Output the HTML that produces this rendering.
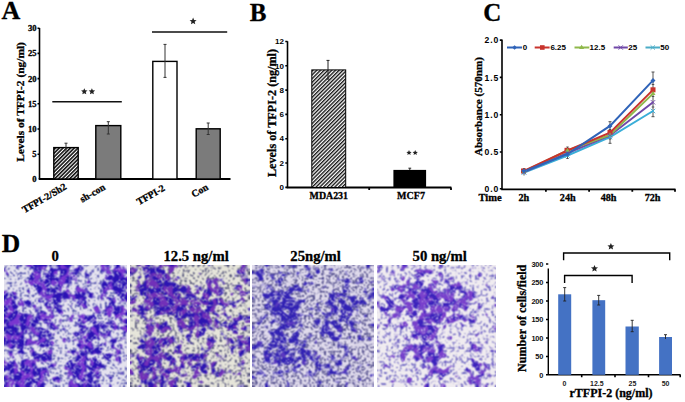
<!DOCTYPE html>
<html><head><meta charset="utf-8">
<style>
html,body{margin:0;padding:0;background:#fff;}
body{width:685px;height:402px;overflow:hidden;position:relative;}
svg{position:absolute;left:0;top:0;}
.s{font-family:"Liberation Serif",serif;font-weight:bold;stroke:#000;stroke-width:0.3px;}
.a{font-family:"Liberation Sans",sans-serif;font-weight:bold;}
</style></head><body>
<svg width="685" height="402" viewBox="0 0 685 402">
<defs>
<pattern id="hatch" patternUnits="userSpaceOnUse" width="2.65" height="2.65" patternTransform="rotate(45)">
<rect width="2.65" height="2.65" fill="#fff"/>
<rect width="1.35" height="2.65" fill="#111"/>
</pattern>
<pattern id="hatchA" patternUnits="userSpaceOnUse" width="2.65" height="2.65" patternTransform="rotate(45)">
<rect width="2.65" height="2.65" fill="#fff"/>
<rect width="1.6" height="2.65" fill="#111"/>
</pattern>
<filter id="soft" x="0" y="0" width="1" height="1"><feGaussianBlur stdDeviation="0.45"/></filter>
</defs>
<rect width="685" height="402" fill="#fff"/>

<!-- ============ PANEL A ============ -->
<g id="A">
<text class="s" x="1.5" y="19" font-size="26">A</text>
<text class="s" font-size="11.4" text-anchor="middle" transform="translate(23.6,102) rotate(-90)">Levels of TFPI-2 (ng/ml)</text>
<g class="s" font-size="8.6" text-anchor="end">
<text x="36.6" y="31.2">30</text>
<text x="36.6" y="56.4">25</text>
<text x="36.6" y="81.6">20</text>
<text x="36.6" y="106.8">15</text>
<text x="36.6" y="132">10</text>
<text x="36.6" y="157.2">5</text>
<text x="36.6" y="182.4">0</text>
</g>
<g stroke="#000" stroke-width="1.6" fill="none">
<path d="M39.5,28 V179 M37.5,28.2 H39.5 M37.5,53.4 H39.5 M37.5,78.6 H39.5 M37.5,103.8 H39.5 M37.5,129 H39.5 M37.5,154.2 H39.5"/>
<path d="M38.7,179 H230.5" stroke-width="1.8"/>
</g>
<!-- bars -->
<rect x="53.8" y="147.6" width="24.4" height="31.4" fill="url(#hatchA)" stroke="#000" stroke-width="1.4"/>
<rect x="95.8" y="125.6" width="25" height="53.4" fill="#7b7b7b" stroke="#000" stroke-width="1.4"/>
<rect x="152.8" y="61.4" width="24.2" height="117.6" fill="#fff" stroke="#000" stroke-width="1.4"/>
<rect x="196.2" y="128.8" width="24" height="50.2" fill="#7b7b7b" stroke="#000" stroke-width="1.4"/>
<!-- error bars -->
<g stroke="#333" stroke-width="1">
<path d="M66,143.2 V152 M64.5,143.2 H67.5"/>
<path d="M108.3,121.7 V134 M106.8,121.7 H109.8 M106.8,134 H109.8"/>
<path d="M165,44.4 V77.4 M163.5,44.4 H166.5 M163.5,77.4 H166.5"/>
<path d="M208.2,123 V134.5 M206.7,123 H209.7 M206.7,134.5 H209.7"/>
</g>
<!-- significance -->
<path d="M52.3,101.8 H121.8 M152,32 H227.2" stroke="#111" stroke-width="1.6"/>
<!-- x labels -->
<g class="s" font-size="9.9" text-anchor="end">
<text transform="translate(67.2,188.6) rotate(-30)">TFPI-2/Sh2</text>
<text transform="translate(106,189) rotate(-30)">sh-con</text>
<text transform="translate(165.6,190) rotate(-30)">TFPI-2</text>
<text transform="translate(209,189) rotate(-30)">Con</text>
</g>
</g>

<!-- ============ PANEL B ============ -->
<g id="B">
<text class="s" x="249.8" y="20.9" font-size="25">B</text>
<text class="s" font-size="12.2" text-anchor="middle" transform="translate(276.2,113) rotate(-90)">Levels of TFPI-2 (ng/ml)</text>
<g class="a" font-size="8" text-anchor="end">
<text x="284" y="44.2">12</text>
<text x="284" y="68.5">10</text>
<text x="284" y="92.8">8</text>
<text x="284" y="117.1">6</text>
<text x="284" y="141.4">4</text>
<text x="284" y="165.7">2</text>
<text x="284" y="190">0</text>
</g>
<g stroke="#000" stroke-width="1.6" fill="none">
<path d="M287.5,41.3 V187.5 M285.3,41.5 H287.5 M285.3,65.8 H287.5 M285.3,90.1 H287.5 M285.3,114.4 H287.5 M285.3,138.7 H287.5 M285.3,163 H287.5 M285.3,187.4 H287.5"/>
<path d="M286.7,187.5 H451.4 M369.2,187.5 V190 M451,187.5 V190" stroke-width="1.8"/>
</g>
<rect x="311.8" y="69.9" width="33.9" height="117.6" fill="url(#hatch)" stroke="#000" stroke-width="1"/>
<rect x="393.4" y="169.9" width="32.7" height="17.6" fill="#000"/>
<path d="M328,60.4 V79.1 M326.5,60.4 H329.5 M326.5,79.1 H329.5" stroke="#222" stroke-width="1"/>
<path d="M409.8,168.2 V170 M408.4,168.2 H411.2" stroke="#222" stroke-width="1"/>
<text class="s" x="328.8" y="199.2" font-size="9.9" text-anchor="middle">MDA231</text>
<text class="s" x="411" y="199.2" font-size="10" text-anchor="middle">MCF7</text>
</g>

<!-- ============ PANEL C ============ -->
<g id="C">
<text class="s" x="483.3" y="21" font-size="25">C</text>
<text class="s" font-size="11.1" text-anchor="middle" transform="translate(481.6,106.5) rotate(-90)">Absorbance (570nm)</text>
<g class="a" font-size="8.6" text-anchor="end" letter-spacing="0.9">
<text x="499.2" y="43.2">2.0</text>
<text x="499.2" y="80.5">1.5</text>
<text x="499.2" y="117.7">1.0</text>
<text x="499.2" y="155">0.5</text>
<text x="499.2" y="191.6">0.0</text>
</g>
<g stroke="#000" stroke-width="1.6" fill="none">
<path d="M502,39.5 V189 M499.8,40.1 H502 M499.8,77.4 H502 M499.8,114.7 H502 M499.8,152 H502 M499.8,188.8 H502"/>
<path d="M501.2,189.3 H675.5 M545.9,189.3 V191.8 M589.1,189.3 V191.8 M632.3,189.3 V191.8 M675,189.3 V191.8" stroke-width="1.8"/>
</g>
<!-- error bars -->
<g stroke="#444" stroke-width="0.9" fill="none">
<path d="M610,121.7 V143.3 M608.5,121.7 H611.5 M608.5,143.3 H611.5 M608.7,129.5 H611.3 M608.7,139 H611.3"/>
<path d="M653,72 V116.7 M651.5,72 H654.5 M651.5,116.7 H654.5 M651.7,84.5 H654.3 M651.7,96.5 H654.3 M651.7,107 H654.3"/>
<path d="M524,168.5 V175.5 M522.8,168.5 H525.2 M567.5,147 V158.5 M566.3,147 H568.7 M566.3,158.5 H568.7"/>
</g>
<!-- series -->
<g fill="none" stroke-width="2">
<polyline points="524,172.5 567.5,155.5 610,137 653,111" stroke="#3aaed8"/>
<polyline points="524,172 567.5,153 610,135.5 653,102.3" stroke="#7048a8"/>
<polyline points="524,171.5 567.5,150.5 610,135 653,93.6" stroke="#8fb84a"/>
<polyline points="524,171 567.5,150.5 610,132.6 653,89.9" stroke="#c8332d"/>
<polyline points="524,171.5 567.5,154 610,125.9 653,80.4" stroke="#2f63b8"/>
</g>
<!-- markers -->
<g>
<rect x="521" y="168.5" width="5" height="5" fill="#c8332d"/>
<rect x="564.5" y="147.8" width="5" height="5" fill="#c8332d"/>
<rect x="607.5" y="130" width="5" height="5" fill="#c8332d"/>
<rect x="650.5" y="87.3" width="5" height="5" fill="#c8332d"/>
<path d="M524,168.5 l2.5,4 h-5z M567.5,148 l2.5,4 h-5z M610,132.5 l2.5,4 h-5z M653,91 l2.5,4 h-5z" fill="#8fb84a"/>
<path d="M521.8,169.8 l4.4,4.4 M526.2,169.8 l-4.4,4.4 M565.3,150.8 l4.4,4.4 M569.7,150.8 l-4.4,4.4 M607.8,133.3 l4.4,4.4 M612.2,133.3 l-4.4,4.4 M650.8,100.1 l4.4,4.4 M655.2,100.1 l-4.4,4.4" stroke="#7048a8" stroke-width="0.9"/>
<path d="M521.8,170.3 l4.4,4.4 M526.2,170.3 l-4.4,4.4 M565.3,153.3 l4.4,4.4 M569.7,153.3 l-4.4,4.4 M607.8,134.8 l4.4,4.4 M612.2,134.8 l-4.4,4.4 M650.8,108.8 l4.4,4.4 M655.2,108.8 l-4.4,4.4" stroke="#3aaed8" stroke-width="0.9"/>
<path d="M524,168.5 l2.5,2.5 l-2.5,2.5 l-2.5,-2.5z M567.5,151.5 l2.5,2.5 l-2.5,2.5 l-2.5,-2.5z M610,123.4 l2.5,2.5 l-2.5,2.5 l-2.5,-2.5z M653,77.9 l2.5,2.5 l-2.5,2.5 l-2.5,-2.5z" fill="#2f63b8"/>
</g>
<!-- legend -->
<g stroke-width="2">
<path d="M507,47.5 H522" stroke="#2f63b8"/>
<path d="M514.6,45.2 l2.3,2.3 l-2.3,2.3 l-2.3,-2.3z" fill="#2f63b8"/>
<path d="M534.7,47.5 H549.6" stroke="#c8332d"/>
<rect x="540" y="45.2" width="4.6" height="4.6" fill="#c8332d"/>
<path d="M574.5,47.5 H589.3" stroke="#8fb84a"/>
<path d="M581.6,44.8 l2.6,4.2 h-5.2z" fill="#8fb84a"/>
<path d="M613.7,47.5 H627.8" stroke="#7048a8"/>
<path d="M618.5,45.3 l4.4,4.4 M622.9,45.3 l-4.4,4.4" stroke="#7048a8" stroke-width="0.9"/>
<path d="M645.5,47.5 H660" stroke="#4bacc6"/>
<path d="M650.6,45.3 l4.4,4.4 M655,45.3 l-4.4,4.4" stroke="#4bacc6" stroke-width="0.9"/>
</g>
<g class="a" font-size="8">
<text x="522.8" y="50.4">0</text>
<text x="550.4" y="50.4">6.25</text>
<text x="589.6" y="50.4">12.5</text>
<text x="628.2" y="50.4">25</text>
<text x="660.3" y="50.4">50</text>
</g>
<g class="s" font-size="10.2" text-anchor="middle">
<text x="490" y="200.6" font-size="10.5">Time</text>
<text x="523.8" y="200.6">2h</text>
<text x="567.8" y="200.6">24h</text>
<text x="608.6" y="200.6">48h</text>
<text x="652.6" y="200.6">72h</text>
</g>
</g>

<!-- ============ PANEL D ============ -->
<g id="D">
<text class="s" x="1.8" y="251.6" font-size="25.5">D</text>
<g class="s" font-size="14.7" text-anchor="middle">
<text x="55.2" y="261">0</text>
<text x="196.1" y="261">12.5 ng/ml</text>
<text x="315.6" y="261">25ng/ml</text>
<text x="439.7" y="261">50 ng/ml</text>
</g>
<defs><filter id="mf0" filterUnits="userSpaceOnUse" x="4.0" y="265.0" width="123.0" height="121.8" color-interpolation-filters="sRGB">
<feGaussianBlur in="SourceGraphic" stdDeviation="3.5" result="D"/>
<feTurbulence type="fractalNoise" baseFrequency="0.13" numOctaves="2" seed="3" result="n0"/>
<feColorMatrix in="n0" type="matrix" values="1 0 0 0 0 1 0 0 0 0 1 0 0 0 0 0 0 0 0 1" result="N"/>
<feComposite in="N" in2="D" operator="arithmetic" k2="1" k3="1.2" k4="-0.57" result="S"/>
<feColorMatrix in="S" type="matrix" values="0 0 0 0 0.165 0 0 0 0 0.071 0 0 0 0 0.706 7.0 0 0 0 -3.500" result="DK0"/>
<feTurbulence type="fractalNoise" baseFrequency="0.15" numOctaves="1" seed="14" result="h0"/>
<feColorMatrix in="h0" type="matrix" values="0 0 0 0 0.478 0 0 0 0 0.212 0 0 0 0 0.816 12 0 0 0 -6.000" result="HP"/>
<feTurbulence type="turbulence" baseFrequency="0.16" numOctaves="1" seed="34" result="c0"/>
<feColorMatrix in="c0" type="matrix" values="0 0 0 0 0 0 0 0 0 0 0 0 0 0 0 -12 0 0 0 0.840" result="CR"/>
<feComposite in="DK0" in2="CR" operator="out" result="DK"/>
<feComposite in="HP" in2="DK" operator="in" result="PU"/>
<feTurbulence type="fractalNoise" baseFrequency="0.4" numOctaves="1" seed="26" result="s0"/>
<feColorMatrix in="s0" type="matrix" values="0 0 0 0 0.282 0 0 0 0 0.282 0 0 0 0 0.659 10 0 0 0 -5.900" result="SP0"/>
<feComponentTransfer in="SP0" result="SP"><feFuncA type="linear" slope="0.95"/></feComponentTransfer>
<feTurbulence type="fractalNoise" baseFrequency="0.4" numOctaves="1" seed="44" result="t0"/>
<feColorMatrix in="t0" type="matrix" values="0 0 0 0 0.282 0 0 0 0 0.282 0 0 0 0 0.659 10 0 0 0 -6.000" result="SQ0"/>
<feComponentTransfer in="SQ0" result="SQ"><feFuncA type="linear" slope="0.95"/></feComponentTransfer>
<feFlood flood-color="#e4e2ee" result="BG"/>
<feMerge result="M"><feMergeNode in="BG"/><feMergeNode in="SP"/><feMergeNode in="SQ"/><feMergeNode in="DK"/><feMergeNode in="PU"/></feMerge>
<feConvolveMatrix in="M" order="3" kernelMatrix="1 2 1 2 4 2 1 2 1" divisor="16" edgeMode="duplicate" preserveAlpha="true"/>

</filter>
<filter id="mf1" filterUnits="userSpaceOnUse" x="130.0" y="265.0" width="119.4" height="121.8" color-interpolation-filters="sRGB">
<feGaussianBlur in="SourceGraphic" stdDeviation="3.5" result="D"/>
<feTurbulence type="fractalNoise" baseFrequency="0.13" numOctaves="2" seed="5" result="n0"/>
<feColorMatrix in="n0" type="matrix" values="1 0 0 0 0 1 0 0 0 0 1 0 0 0 0 0 0 0 0 1" result="N"/>
<feComposite in="N" in2="D" operator="arithmetic" k2="1" k3="1.1" k4="-0.515" result="S"/>
<feColorMatrix in="S" type="matrix" values="0 0 0 0 0.173 0 0 0 0 0.078 0 0 0 0 0.698 7.0 0 0 0 -3.500" result="DK0"/>
<feTurbulence type="fractalNoise" baseFrequency="0.15" numOctaves="1" seed="16" result="h0"/>
<feColorMatrix in="h0" type="matrix" values="0 0 0 0 0.447 0 0 0 0 0.188 0 0 0 0 0.722 12 0 0 0 -5.640" result="HP"/>
<feTurbulence type="turbulence" baseFrequency="0.16" numOctaves="1" seed="36" result="c0"/>
<feColorMatrix in="c0" type="matrix" values="0 0 0 0 0 0 0 0 0 0 0 0 0 0 0 -12 0 0 0 0.840" result="CR"/>
<feComposite in="DK0" in2="CR" operator="out" result="DK"/>
<feComposite in="HP" in2="DK" operator="in" result="PU"/>
<feTurbulence type="fractalNoise" baseFrequency="0.4" numOctaves="1" seed="28" result="s0"/>
<feColorMatrix in="s0" type="matrix" values="0 0 0 0 0.314 0 0 0 0 0.314 0 0 0 0 0.471 10 0 0 0 -5.900" result="SP0"/>
<feComponentTransfer in="SP0" result="SP"><feFuncA type="linear" slope="0.95"/></feComponentTransfer>
<feTurbulence type="fractalNoise" baseFrequency="0.4" numOctaves="1" seed="46" result="t0"/>
<feColorMatrix in="t0" type="matrix" values="0 0 0 0 0.314 0 0 0 0 0.314 0 0 0 0 0.471 10 0 0 0 -6.000" result="SQ0"/>
<feComponentTransfer in="SQ0" result="SQ"><feFuncA type="linear" slope="0.95"/></feComponentTransfer>
<feFlood flood-color="#e6e5da" result="BG"/>
<feMerge result="M"><feMergeNode in="BG"/><feMergeNode in="SP"/><feMergeNode in="SQ"/><feMergeNode in="DK"/><feMergeNode in="PU"/></feMerge>
<feConvolveMatrix in="M" order="3" kernelMatrix="1 2 1 2 4 2 1 2 1" divisor="16" edgeMode="duplicate" preserveAlpha="true"/>

</filter>
<filter id="mf2" filterUnits="userSpaceOnUse" x="252.4" y="265.0" width="121.5" height="121.8" color-interpolation-filters="sRGB">
<feGaussianBlur in="SourceGraphic" stdDeviation="3.5" result="D"/>
<feTurbulence type="fractalNoise" baseFrequency="0.14" numOctaves="2" seed="7" result="n0"/>
<feColorMatrix in="n0" type="matrix" values="1 0 0 0 0 1 0 0 0 0 1 0 0 0 0 0 0 0 0 1" result="N"/>
<feComposite in="N" in2="D" operator="arithmetic" k2="1" k3="1.15" k4="-0.565" result="S"/>
<feColorMatrix in="S" type="matrix" values="0 0 0 0 0.196 0 0 0 0 0.133 0 0 0 0 0.706 7.0 0 0 0 -3.500" result="DK0"/>
<feTurbulence type="fractalNoise" baseFrequency="0.15" numOctaves="1" seed="18" result="h0"/>
<feColorMatrix in="h0" type="matrix" values="0 0 0 0 0.353 0 0 0 0 0.220 0 0 0 0 0.753 12 0 0 0 -7.440" result="HP"/>
<feTurbulence type="turbulence" baseFrequency="0.16" numOctaves="1" seed="38" result="c0"/>
<feColorMatrix in="c0" type="matrix" values="0 0 0 0 0 0 0 0 0 0 0 0 0 0 0 -12 0 0 0 0.840" result="CR"/>
<feComposite in="DK0" in2="CR" operator="out" result="DK"/>
<feComposite in="HP" in2="DK" operator="in" result="PU"/>
<feTurbulence type="fractalNoise" baseFrequency="0.45" numOctaves="1" seed="30" result="s0"/>
<feColorMatrix in="s0" type="matrix" values="0 0 0 0 0.298 0 0 0 0 0.282 0 0 0 0 0.533 10 0 0 0 -5.600" result="SP0"/>
<feComponentTransfer in="SP0" result="SP"><feFuncA type="linear" slope="0.9"/></feComponentTransfer>
<feTurbulence type="fractalNoise" baseFrequency="0.45" numOctaves="1" seed="48" result="t0"/>
<feColorMatrix in="t0" type="matrix" values="0 0 0 0 0.298 0 0 0 0 0.282 0 0 0 0 0.533 10 0 0 0 -5.600" result="SQ0"/>
<feComponentTransfer in="SQ0" result="SQ"><feFuncA type="linear" slope="0.9"/></feComponentTransfer>
<feFlood flood-color="#e0dbec" result="BG"/>
<feMerge result="M"><feMergeNode in="BG"/><feMergeNode in="SP"/><feMergeNode in="SQ"/><feMergeNode in="DK"/><feMergeNode in="PU"/></feMerge>
<feConvolveMatrix in="M" order="3" kernelMatrix="1 2 1 2 4 2 1 2 1" divisor="16" edgeMode="duplicate" preserveAlpha="true"/>

</filter>
<filter id="mf3" filterUnits="userSpaceOnUse" x="377.0" y="265.0" width="119.0" height="121.8" color-interpolation-filters="sRGB">
<feGaussianBlur in="SourceGraphic" stdDeviation="3.5" result="D"/>
<feTurbulence type="fractalNoise" baseFrequency="0.13" numOctaves="2" seed="9" result="n0"/>
<feColorMatrix in="n0" type="matrix" values="1 0 0 0 0 1 0 0 0 0 1 0 0 0 0 0 0 0 0 1" result="N"/>
<feComposite in="N" in2="D" operator="arithmetic" k2="1" k3="1.1" k4="-0.47000000000000003" result="S"/>
<feColorMatrix in="S" type="matrix" values="0 0 0 0 0.235 0 0 0 0 0.133 0 0 0 0 0.737 7.0 0 0 0 -3.500" result="DK0"/>
<feTurbulence type="fractalNoise" baseFrequency="0.15" numOctaves="1" seed="20" result="h0"/>
<feColorMatrix in="h0" type="matrix" values="0 0 0 0 0.478 0 0 0 0 0.251 0 0 0 0 0.800 12 0 0 0 -5.400" result="HP"/>
<feTurbulence type="turbulence" baseFrequency="0.16" numOctaves="1" seed="40" result="c0"/>
<feColorMatrix in="c0" type="matrix" values="0 0 0 0 0 0 0 0 0 0 0 0 0 0 0 -12 0 0 0 0.840" result="CR"/>
<feComposite in="DK0" in2="CR" operator="out" result="DK"/>
<feComposite in="HP" in2="DK" operator="in" result="PU"/>
<feTurbulence type="fractalNoise" baseFrequency="0.36" numOctaves="1" seed="32" result="s0"/>
<feColorMatrix in="s0" type="matrix" values="0 0 0 0 0.416 0 0 0 0 0.384 0 0 0 0 0.753 10 0 0 0 -5.800" result="SP0"/>
<feComponentTransfer in="SP0" result="SP"><feFuncA type="linear" slope="0.9"/></feComponentTransfer>
<feTurbulence type="fractalNoise" baseFrequency="0.36" numOctaves="1" seed="50" result="t0"/>
<feColorMatrix in="t0" type="matrix" values="0 0 0 0 0.416 0 0 0 0 0.384 0 0 0 0 0.753 10 0 0 0 -6.000" result="SQ0"/>
<feComponentTransfer in="SQ0" result="SQ"><feFuncA type="linear" slope="0.9"/></feComponentTransfer>
<feFlood flood-color="#f0ecf0" result="BG"/>
<feMerge result="M"><feMergeNode in="BG"/><feMergeNode in="SP"/><feMergeNode in="SQ"/><feMergeNode in="DK"/><feMergeNode in="PU"/></feMerge>
<feConvolveMatrix in="M" order="3" kernelMatrix="1 2 1 2 4 2 1 2 1" divisor="16" edgeMode="duplicate" preserveAlpha="true"/>

</filter></defs>
<g filter="url(#mf0)"><rect x="-20.6" y="240.6" width="12.6" height="12.5" fill="rgb(102,102,102)"/><rect x="-8.3" y="240.6" width="12.6" height="12.5" fill="rgb(102,102,102)"/><rect x="4.0" y="240.6" width="12.6" height="12.5" fill="rgb(102,102,102)"/><rect x="16.3" y="240.6" width="12.6" height="12.5" fill="rgb(76,76,76)"/><rect x="28.6" y="240.6" width="12.6" height="12.5" fill="rgb(178,178,178)"/><rect x="40.9" y="240.6" width="12.6" height="12.5" fill="rgb(128,128,128)"/><rect x="53.2" y="240.6" width="12.6" height="12.5" fill="rgb(178,178,178)"/><rect x="65.5" y="240.6" width="12.6" height="12.5" fill="rgb(153,153,153)"/><rect x="77.8" y="240.6" width="12.6" height="12.5" fill="rgb(128,128,128)"/><rect x="90.1" y="240.6" width="12.6" height="12.5" fill="rgb(76,76,76)"/><rect x="102.4" y="240.6" width="12.6" height="12.5" fill="rgb(153,153,153)"/><rect x="114.7" y="240.6" width="12.6" height="12.5" fill="rgb(153,153,153)"/><rect x="127.0" y="240.6" width="12.6" height="12.5" fill="rgb(153,153,153)"/><rect x="139.3" y="240.6" width="12.6" height="12.5" fill="rgb(153,153,153)"/><rect x="-20.6" y="252.8" width="12.6" height="12.5" fill="rgb(102,102,102)"/><rect x="-8.3" y="252.8" width="12.6" height="12.5" fill="rgb(102,102,102)"/><rect x="4.0" y="252.8" width="12.6" height="12.5" fill="rgb(102,102,102)"/><rect x="16.3" y="252.8" width="12.6" height="12.5" fill="rgb(76,76,76)"/><rect x="28.6" y="252.8" width="12.6" height="12.5" fill="rgb(178,178,178)"/><rect x="40.9" y="252.8" width="12.6" height="12.5" fill="rgb(128,128,128)"/><rect x="53.2" y="252.8" width="12.6" height="12.5" fill="rgb(178,178,178)"/><rect x="65.5" y="252.8" width="12.6" height="12.5" fill="rgb(153,153,153)"/><rect x="77.8" y="252.8" width="12.6" height="12.5" fill="rgb(128,128,128)"/><rect x="90.1" y="252.8" width="12.6" height="12.5" fill="rgb(76,76,76)"/><rect x="102.4" y="252.8" width="12.6" height="12.5" fill="rgb(153,153,153)"/><rect x="114.7" y="252.8" width="12.6" height="12.5" fill="rgb(153,153,153)"/><rect x="127.0" y="252.8" width="12.6" height="12.5" fill="rgb(153,153,153)"/><rect x="139.3" y="252.8" width="12.6" height="12.5" fill="rgb(153,153,153)"/><rect x="-20.6" y="265.0" width="12.6" height="12.5" fill="rgb(102,102,102)"/><rect x="-8.3" y="265.0" width="12.6" height="12.5" fill="rgb(102,102,102)"/><rect x="4.0" y="265.0" width="12.6" height="12.5" fill="rgb(102,102,102)"/><rect x="16.3" y="265.0" width="12.6" height="12.5" fill="rgb(76,76,76)"/><rect x="28.6" y="265.0" width="12.6" height="12.5" fill="rgb(178,178,178)"/><rect x="40.9" y="265.0" width="12.6" height="12.5" fill="rgb(128,128,128)"/><rect x="53.2" y="265.0" width="12.6" height="12.5" fill="rgb(178,178,178)"/><rect x="65.5" y="265.0" width="12.6" height="12.5" fill="rgb(153,153,153)"/><rect x="77.8" y="265.0" width="12.6" height="12.5" fill="rgb(128,128,128)"/><rect x="90.1" y="265.0" width="12.6" height="12.5" fill="rgb(76,76,76)"/><rect x="102.4" y="265.0" width="12.6" height="12.5" fill="rgb(153,153,153)"/><rect x="114.7" y="265.0" width="12.6" height="12.5" fill="rgb(153,153,153)"/><rect x="127.0" y="265.0" width="12.6" height="12.5" fill="rgb(153,153,153)"/><rect x="139.3" y="265.0" width="12.6" height="12.5" fill="rgb(153,153,153)"/><rect x="-20.6" y="277.2" width="12.6" height="12.5" fill="rgb(76,76,76)"/><rect x="-8.3" y="277.2" width="12.6" height="12.5" fill="rgb(76,76,76)"/><rect x="4.0" y="277.2" width="12.6" height="12.5" fill="rgb(76,76,76)"/><rect x="16.3" y="277.2" width="12.6" height="12.5" fill="rgb(76,76,76)"/><rect x="28.6" y="277.2" width="12.6" height="12.5" fill="rgb(178,178,178)"/><rect x="40.9" y="277.2" width="12.6" height="12.5" fill="rgb(178,178,178)"/><rect x="53.2" y="277.2" width="12.6" height="12.5" fill="rgb(178,178,178)"/><rect x="65.5" y="277.2" width="12.6" height="12.5" fill="rgb(128,128,128)"/><rect x="77.8" y="277.2" width="12.6" height="12.5" fill="rgb(102,102,102)"/><rect x="90.1" y="277.2" width="12.6" height="12.5" fill="rgb(76,76,76)"/><rect x="102.4" y="277.2" width="12.6" height="12.5" fill="rgb(178,178,178)"/><rect x="114.7" y="277.2" width="12.6" height="12.5" fill="rgb(178,178,178)"/><rect x="127.0" y="277.2" width="12.6" height="12.5" fill="rgb(178,178,178)"/><rect x="139.3" y="277.2" width="12.6" height="12.5" fill="rgb(178,178,178)"/><rect x="-20.6" y="289.4" width="12.6" height="12.5" fill="rgb(153,153,153)"/><rect x="-8.3" y="289.4" width="12.6" height="12.5" fill="rgb(153,153,153)"/><rect x="4.0" y="289.4" width="12.6" height="12.5" fill="rgb(153,153,153)"/><rect x="16.3" y="289.4" width="12.6" height="12.5" fill="rgb(89,89,89)"/><rect x="28.6" y="289.4" width="12.6" height="12.5" fill="rgb(128,128,128)"/><rect x="40.9" y="289.4" width="12.6" height="12.5" fill="rgb(153,153,153)"/><rect x="53.2" y="289.4" width="12.6" height="12.5" fill="rgb(128,128,128)"/><rect x="65.5" y="289.4" width="12.6" height="12.5" fill="rgb(153,153,153)"/><rect x="77.8" y="289.4" width="12.6" height="12.5" fill="rgb(178,178,178)"/><rect x="90.1" y="289.4" width="12.6" height="12.5" fill="rgb(89,89,89)"/><rect x="102.4" y="289.4" width="12.6" height="12.5" fill="rgb(115,115,115)"/><rect x="114.7" y="289.4" width="12.6" height="12.5" fill="rgb(153,153,153)"/><rect x="127.0" y="289.4" width="12.6" height="12.5" fill="rgb(153,153,153)"/><rect x="139.3" y="289.4" width="12.6" height="12.5" fill="rgb(153,153,153)"/><rect x="-20.6" y="301.5" width="12.6" height="12.5" fill="rgb(204,204,204)"/><rect x="-8.3" y="301.5" width="12.6" height="12.5" fill="rgb(204,204,204)"/><rect x="4.0" y="301.5" width="12.6" height="12.5" fill="rgb(204,204,204)"/><rect x="16.3" y="301.5" width="12.6" height="12.5" fill="rgb(128,128,128)"/><rect x="28.6" y="301.5" width="12.6" height="12.5" fill="rgb(128,128,128)"/><rect x="40.9" y="301.5" width="12.6" height="12.5" fill="rgb(128,128,128)"/><rect x="53.2" y="301.5" width="12.6" height="12.5" fill="rgb(153,153,153)"/><rect x="65.5" y="301.5" width="12.6" height="12.5" fill="rgb(76,76,76)"/><rect x="77.8" y="301.5" width="12.6" height="12.5" fill="rgb(153,153,153)"/><rect x="90.1" y="301.5" width="12.6" height="12.5" fill="rgb(102,102,102)"/><rect x="102.4" y="301.5" width="12.6" height="12.5" fill="rgb(153,153,153)"/><rect x="114.7" y="301.5" width="12.6" height="12.5" fill="rgb(153,153,153)"/><rect x="127.0" y="301.5" width="12.6" height="12.5" fill="rgb(153,153,153)"/><rect x="139.3" y="301.5" width="12.6" height="12.5" fill="rgb(153,153,153)"/><rect x="-20.6" y="313.7" width="12.6" height="12.5" fill="rgb(204,204,204)"/><rect x="-8.3" y="313.7" width="12.6" height="12.5" fill="rgb(204,204,204)"/><rect x="4.0" y="313.7" width="12.6" height="12.5" fill="rgb(204,204,204)"/><rect x="16.3" y="313.7" width="12.6" height="12.5" fill="rgb(178,178,178)"/><rect x="28.6" y="313.7" width="12.6" height="12.5" fill="rgb(153,153,153)"/><rect x="40.9" y="313.7" width="12.6" height="12.5" fill="rgb(153,153,153)"/><rect x="53.2" y="313.7" width="12.6" height="12.5" fill="rgb(128,128,128)"/><rect x="65.5" y="313.7" width="12.6" height="12.5" fill="rgb(102,102,102)"/><rect x="77.8" y="313.7" width="12.6" height="12.5" fill="rgb(153,153,153)"/><rect x="90.1" y="313.7" width="12.6" height="12.5" fill="rgb(128,128,128)"/><rect x="102.4" y="313.7" width="12.6" height="12.5" fill="rgb(153,153,153)"/><rect x="114.7" y="313.7" width="12.6" height="12.5" fill="rgb(128,128,128)"/><rect x="127.0" y="313.7" width="12.6" height="12.5" fill="rgb(128,128,128)"/><rect x="139.3" y="313.7" width="12.6" height="12.5" fill="rgb(128,128,128)"/><rect x="-20.6" y="325.9" width="12.6" height="12.5" fill="rgb(178,178,178)"/><rect x="-8.3" y="325.9" width="12.6" height="12.5" fill="rgb(178,178,178)"/><rect x="4.0" y="325.9" width="12.6" height="12.5" fill="rgb(178,178,178)"/><rect x="16.3" y="325.9" width="12.6" height="12.5" fill="rgb(178,178,178)"/><rect x="28.6" y="325.9" width="12.6" height="12.5" fill="rgb(128,128,128)"/><rect x="40.9" y="325.9" width="12.6" height="12.5" fill="rgb(153,153,153)"/><rect x="53.2" y="325.9" width="12.6" height="12.5" fill="rgb(115,115,115)"/><rect x="65.5" y="325.9" width="12.6" height="12.5" fill="rgb(89,89,89)"/><rect x="77.8" y="325.9" width="12.6" height="12.5" fill="rgb(178,178,178)"/><rect x="90.1" y="325.9" width="12.6" height="12.5" fill="rgb(153,153,153)"/><rect x="102.4" y="325.9" width="12.6" height="12.5" fill="rgb(128,128,128)"/><rect x="114.7" y="325.9" width="12.6" height="12.5" fill="rgb(128,128,128)"/><rect x="127.0" y="325.9" width="12.6" height="12.5" fill="rgb(128,128,128)"/><rect x="139.3" y="325.9" width="12.6" height="12.5" fill="rgb(128,128,128)"/><rect x="-20.6" y="338.1" width="12.6" height="12.5" fill="rgb(153,153,153)"/><rect x="-8.3" y="338.1" width="12.6" height="12.5" fill="rgb(153,153,153)"/><rect x="4.0" y="338.1" width="12.6" height="12.5" fill="rgb(153,153,153)"/><rect x="16.3" y="338.1" width="12.6" height="12.5" fill="rgb(153,153,153)"/><rect x="28.6" y="338.1" width="12.6" height="12.5" fill="rgb(128,128,128)"/><rect x="40.9" y="338.1" width="12.6" height="12.5" fill="rgb(153,153,153)"/><rect x="53.2" y="338.1" width="12.6" height="12.5" fill="rgb(115,115,115)"/><rect x="65.5" y="338.1" width="12.6" height="12.5" fill="rgb(89,89,89)"/><rect x="77.8" y="338.1" width="12.6" height="12.5" fill="rgb(178,178,178)"/><rect x="90.1" y="338.1" width="12.6" height="12.5" fill="rgb(153,153,153)"/><rect x="102.4" y="338.1" width="12.6" height="12.5" fill="rgb(115,115,115)"/><rect x="114.7" y="338.1" width="12.6" height="12.5" fill="rgb(128,128,128)"/><rect x="127.0" y="338.1" width="12.6" height="12.5" fill="rgb(128,128,128)"/><rect x="139.3" y="338.1" width="12.6" height="12.5" fill="rgb(128,128,128)"/><rect x="-20.6" y="350.3" width="12.6" height="12.5" fill="rgb(102,102,102)"/><rect x="-8.3" y="350.3" width="12.6" height="12.5" fill="rgb(102,102,102)"/><rect x="4.0" y="350.3" width="12.6" height="12.5" fill="rgb(102,102,102)"/><rect x="16.3" y="350.3" width="12.6" height="12.5" fill="rgb(153,153,153)"/><rect x="28.6" y="350.3" width="12.6" height="12.5" fill="rgb(128,128,128)"/><rect x="40.9" y="350.3" width="12.6" height="12.5" fill="rgb(153,153,153)"/><rect x="53.2" y="350.3" width="12.6" height="12.5" fill="rgb(89,89,89)"/><rect x="65.5" y="350.3" width="12.6" height="12.5" fill="rgb(128,128,128)"/><rect x="77.8" y="350.3" width="12.6" height="12.5" fill="rgb(153,153,153)"/><rect x="90.1" y="350.3" width="12.6" height="12.5" fill="rgb(153,153,153)"/><rect x="102.4" y="350.3" width="12.6" height="12.5" fill="rgb(128,128,128)"/><rect x="114.7" y="350.3" width="12.6" height="12.5" fill="rgb(115,115,115)"/><rect x="127.0" y="350.3" width="12.6" height="12.5" fill="rgb(115,115,115)"/><rect x="139.3" y="350.3" width="12.6" height="12.5" fill="rgb(115,115,115)"/><rect x="-20.6" y="362.4" width="12.6" height="12.5" fill="rgb(153,153,153)"/><rect x="-8.3" y="362.4" width="12.6" height="12.5" fill="rgb(153,153,153)"/><rect x="4.0" y="362.4" width="12.6" height="12.5" fill="rgb(153,153,153)"/><rect x="16.3" y="362.4" width="12.6" height="12.5" fill="rgb(178,178,178)"/><rect x="28.6" y="362.4" width="12.6" height="12.5" fill="rgb(153,153,153)"/><rect x="40.9" y="362.4" width="12.6" height="12.5" fill="rgb(153,153,153)"/><rect x="53.2" y="362.4" width="12.6" height="12.5" fill="rgb(76,76,76)"/><rect x="65.5" y="362.4" width="12.6" height="12.5" fill="rgb(178,178,178)"/><rect x="77.8" y="362.4" width="12.6" height="12.5" fill="rgb(178,178,178)"/><rect x="90.1" y="362.4" width="12.6" height="12.5" fill="rgb(153,153,153)"/><rect x="102.4" y="362.4" width="12.6" height="12.5" fill="rgb(102,102,102)"/><rect x="114.7" y="362.4" width="12.6" height="12.5" fill="rgb(89,89,89)"/><rect x="127.0" y="362.4" width="12.6" height="12.5" fill="rgb(89,89,89)"/><rect x="139.3" y="362.4" width="12.6" height="12.5" fill="rgb(89,89,89)"/><rect x="-20.6" y="374.6" width="12.6" height="12.5" fill="rgb(153,153,153)"/><rect x="-8.3" y="374.6" width="12.6" height="12.5" fill="rgb(153,153,153)"/><rect x="4.0" y="374.6" width="12.6" height="12.5" fill="rgb(153,153,153)"/><rect x="16.3" y="374.6" width="12.6" height="12.5" fill="rgb(204,204,204)"/><rect x="28.6" y="374.6" width="12.6" height="12.5" fill="rgb(178,178,178)"/><rect x="40.9" y="374.6" width="12.6" height="12.5" fill="rgb(128,128,128)"/><rect x="53.2" y="374.6" width="12.6" height="12.5" fill="rgb(89,89,89)"/><rect x="65.5" y="374.6" width="12.6" height="12.5" fill="rgb(153,153,153)"/><rect x="77.8" y="374.6" width="12.6" height="12.5" fill="rgb(153,153,153)"/><rect x="90.1" y="374.6" width="12.6" height="12.5" fill="rgb(153,153,153)"/><rect x="102.4" y="374.6" width="12.6" height="12.5" fill="rgb(115,115,115)"/><rect x="114.7" y="374.6" width="12.6" height="12.5" fill="rgb(89,89,89)"/><rect x="127.0" y="374.6" width="12.6" height="12.5" fill="rgb(89,89,89)"/><rect x="139.3" y="374.6" width="12.6" height="12.5" fill="rgb(89,89,89)"/><rect x="-20.6" y="386.8" width="12.6" height="12.5" fill="rgb(153,153,153)"/><rect x="-8.3" y="386.8" width="12.6" height="12.5" fill="rgb(153,153,153)"/><rect x="4.0" y="386.8" width="12.6" height="12.5" fill="rgb(153,153,153)"/><rect x="16.3" y="386.8" width="12.6" height="12.5" fill="rgb(204,204,204)"/><rect x="28.6" y="386.8" width="12.6" height="12.5" fill="rgb(178,178,178)"/><rect x="40.9" y="386.8" width="12.6" height="12.5" fill="rgb(128,128,128)"/><rect x="53.2" y="386.8" width="12.6" height="12.5" fill="rgb(89,89,89)"/><rect x="65.5" y="386.8" width="12.6" height="12.5" fill="rgb(153,153,153)"/><rect x="77.8" y="386.8" width="12.6" height="12.5" fill="rgb(153,153,153)"/><rect x="90.1" y="386.8" width="12.6" height="12.5" fill="rgb(153,153,153)"/><rect x="102.4" y="386.8" width="12.6" height="12.5" fill="rgb(115,115,115)"/><rect x="114.7" y="386.8" width="12.6" height="12.5" fill="rgb(89,89,89)"/><rect x="127.0" y="386.8" width="12.6" height="12.5" fill="rgb(89,89,89)"/><rect x="139.3" y="386.8" width="12.6" height="12.5" fill="rgb(89,89,89)"/><rect x="-20.6" y="399.0" width="12.6" height="12.5" fill="rgb(153,153,153)"/><rect x="-8.3" y="399.0" width="12.6" height="12.5" fill="rgb(153,153,153)"/><rect x="4.0" y="399.0" width="12.6" height="12.5" fill="rgb(153,153,153)"/><rect x="16.3" y="399.0" width="12.6" height="12.5" fill="rgb(204,204,204)"/><rect x="28.6" y="399.0" width="12.6" height="12.5" fill="rgb(178,178,178)"/><rect x="40.9" y="399.0" width="12.6" height="12.5" fill="rgb(128,128,128)"/><rect x="53.2" y="399.0" width="12.6" height="12.5" fill="rgb(89,89,89)"/><rect x="65.5" y="399.0" width="12.6" height="12.5" fill="rgb(153,153,153)"/><rect x="77.8" y="399.0" width="12.6" height="12.5" fill="rgb(153,153,153)"/><rect x="90.1" y="399.0" width="12.6" height="12.5" fill="rgb(153,153,153)"/><rect x="102.4" y="399.0" width="12.6" height="12.5" fill="rgb(115,115,115)"/><rect x="114.7" y="399.0" width="12.6" height="12.5" fill="rgb(89,89,89)"/><rect x="127.0" y="399.0" width="12.6" height="12.5" fill="rgb(89,89,89)"/><rect x="139.3" y="399.0" width="12.6" height="12.5" fill="rgb(89,89,89)"/></g>
<g filter="url(#mf1)"><rect x="106.1" y="240.6" width="12.2" height="12.5" fill="rgb(128,128,128)"/><rect x="118.1" y="240.6" width="12.2" height="12.5" fill="rgb(128,128,128)"/><rect x="130.0" y="240.6" width="12.2" height="12.5" fill="rgb(128,128,128)"/><rect x="141.9" y="240.6" width="12.2" height="12.5" fill="rgb(153,153,153)"/><rect x="153.9" y="240.6" width="12.2" height="12.5" fill="rgb(153,153,153)"/><rect x="165.8" y="240.6" width="12.2" height="12.5" fill="rgb(128,128,128)"/><rect x="177.8" y="240.6" width="12.2" height="12.5" fill="rgb(76,76,76)"/><rect x="189.7" y="240.6" width="12.2" height="12.5" fill="rgb(76,76,76)"/><rect x="201.6" y="240.6" width="12.2" height="12.5" fill="rgb(76,76,76)"/><rect x="213.6" y="240.6" width="12.2" height="12.5" fill="rgb(76,76,76)"/><rect x="225.5" y="240.6" width="12.2" height="12.5" fill="rgb(76,76,76)"/><rect x="237.5" y="240.6" width="12.2" height="12.5" fill="rgb(128,128,128)"/><rect x="249.4" y="240.6" width="12.2" height="12.5" fill="rgb(128,128,128)"/><rect x="261.3" y="240.6" width="12.2" height="12.5" fill="rgb(128,128,128)"/><rect x="106.1" y="252.8" width="12.2" height="12.5" fill="rgb(128,128,128)"/><rect x="118.1" y="252.8" width="12.2" height="12.5" fill="rgb(128,128,128)"/><rect x="130.0" y="252.8" width="12.2" height="12.5" fill="rgb(128,128,128)"/><rect x="141.9" y="252.8" width="12.2" height="12.5" fill="rgb(153,153,153)"/><rect x="153.9" y="252.8" width="12.2" height="12.5" fill="rgb(153,153,153)"/><rect x="165.8" y="252.8" width="12.2" height="12.5" fill="rgb(128,128,128)"/><rect x="177.8" y="252.8" width="12.2" height="12.5" fill="rgb(76,76,76)"/><rect x="189.7" y="252.8" width="12.2" height="12.5" fill="rgb(76,76,76)"/><rect x="201.6" y="252.8" width="12.2" height="12.5" fill="rgb(76,76,76)"/><rect x="213.6" y="252.8" width="12.2" height="12.5" fill="rgb(76,76,76)"/><rect x="225.5" y="252.8" width="12.2" height="12.5" fill="rgb(76,76,76)"/><rect x="237.5" y="252.8" width="12.2" height="12.5" fill="rgb(128,128,128)"/><rect x="249.4" y="252.8" width="12.2" height="12.5" fill="rgb(128,128,128)"/><rect x="261.3" y="252.8" width="12.2" height="12.5" fill="rgb(128,128,128)"/><rect x="106.1" y="265.0" width="12.2" height="12.5" fill="rgb(128,128,128)"/><rect x="118.1" y="265.0" width="12.2" height="12.5" fill="rgb(128,128,128)"/><rect x="130.0" y="265.0" width="12.2" height="12.5" fill="rgb(128,128,128)"/><rect x="141.9" y="265.0" width="12.2" height="12.5" fill="rgb(153,153,153)"/><rect x="153.9" y="265.0" width="12.2" height="12.5" fill="rgb(153,153,153)"/><rect x="165.8" y="265.0" width="12.2" height="12.5" fill="rgb(128,128,128)"/><rect x="177.8" y="265.0" width="12.2" height="12.5" fill="rgb(76,76,76)"/><rect x="189.7" y="265.0" width="12.2" height="12.5" fill="rgb(76,76,76)"/><rect x="201.6" y="265.0" width="12.2" height="12.5" fill="rgb(76,76,76)"/><rect x="213.6" y="265.0" width="12.2" height="12.5" fill="rgb(76,76,76)"/><rect x="225.5" y="265.0" width="12.2" height="12.5" fill="rgb(76,76,76)"/><rect x="237.5" y="265.0" width="12.2" height="12.5" fill="rgb(128,128,128)"/><rect x="249.4" y="265.0" width="12.2" height="12.5" fill="rgb(128,128,128)"/><rect x="261.3" y="265.0" width="12.2" height="12.5" fill="rgb(128,128,128)"/><rect x="106.1" y="277.2" width="12.2" height="12.5" fill="rgb(128,128,128)"/><rect x="118.1" y="277.2" width="12.2" height="12.5" fill="rgb(128,128,128)"/><rect x="130.0" y="277.2" width="12.2" height="12.5" fill="rgb(128,128,128)"/><rect x="141.9" y="277.2" width="12.2" height="12.5" fill="rgb(178,178,178)"/><rect x="153.9" y="277.2" width="12.2" height="12.5" fill="rgb(204,204,204)"/><rect x="165.8" y="277.2" width="12.2" height="12.5" fill="rgb(178,178,178)"/><rect x="177.8" y="277.2" width="12.2" height="12.5" fill="rgb(102,102,102)"/><rect x="189.7" y="277.2" width="12.2" height="12.5" fill="rgb(76,76,76)"/><rect x="201.6" y="277.2" width="12.2" height="12.5" fill="rgb(153,153,153)"/><rect x="213.6" y="277.2" width="12.2" height="12.5" fill="rgb(128,128,128)"/><rect x="225.5" y="277.2" width="12.2" height="12.5" fill="rgb(102,102,102)"/><rect x="237.5" y="277.2" width="12.2" height="12.5" fill="rgb(128,128,128)"/><rect x="249.4" y="277.2" width="12.2" height="12.5" fill="rgb(128,128,128)"/><rect x="261.3" y="277.2" width="12.2" height="12.5" fill="rgb(128,128,128)"/><rect x="106.1" y="289.4" width="12.2" height="12.5" fill="rgb(102,102,102)"/><rect x="118.1" y="289.4" width="12.2" height="12.5" fill="rgb(102,102,102)"/><rect x="130.0" y="289.4" width="12.2" height="12.5" fill="rgb(102,102,102)"/><rect x="141.9" y="289.4" width="12.2" height="12.5" fill="rgb(178,178,178)"/><rect x="153.9" y="289.4" width="12.2" height="12.5" fill="rgb(204,204,204)"/><rect x="165.8" y="289.4" width="12.2" height="12.5" fill="rgb(204,204,204)"/><rect x="177.8" y="289.4" width="12.2" height="12.5" fill="rgb(178,178,178)"/><rect x="189.7" y="289.4" width="12.2" height="12.5" fill="rgb(128,128,128)"/><rect x="201.6" y="289.4" width="12.2" height="12.5" fill="rgb(178,178,178)"/><rect x="213.6" y="289.4" width="12.2" height="12.5" fill="rgb(153,153,153)"/><rect x="225.5" y="289.4" width="12.2" height="12.5" fill="rgb(102,102,102)"/><rect x="237.5" y="289.4" width="12.2" height="12.5" fill="rgb(128,128,128)"/><rect x="249.4" y="289.4" width="12.2" height="12.5" fill="rgb(128,128,128)"/><rect x="261.3" y="289.4" width="12.2" height="12.5" fill="rgb(128,128,128)"/><rect x="106.1" y="301.5" width="12.2" height="12.5" fill="rgb(128,128,128)"/><rect x="118.1" y="301.5" width="12.2" height="12.5" fill="rgb(128,128,128)"/><rect x="130.0" y="301.5" width="12.2" height="12.5" fill="rgb(128,128,128)"/><rect x="141.9" y="301.5" width="12.2" height="12.5" fill="rgb(153,153,153)"/><rect x="153.9" y="301.5" width="12.2" height="12.5" fill="rgb(153,153,153)"/><rect x="165.8" y="301.5" width="12.2" height="12.5" fill="rgb(204,204,204)"/><rect x="177.8" y="301.5" width="12.2" height="12.5" fill="rgb(178,178,178)"/><rect x="189.7" y="301.5" width="12.2" height="12.5" fill="rgb(153,153,153)"/><rect x="201.6" y="301.5" width="12.2" height="12.5" fill="rgb(153,153,153)"/><rect x="213.6" y="301.5" width="12.2" height="12.5" fill="rgb(128,128,128)"/><rect x="225.5" y="301.5" width="12.2" height="12.5" fill="rgb(102,102,102)"/><rect x="237.5" y="301.5" width="12.2" height="12.5" fill="rgb(102,102,102)"/><rect x="249.4" y="301.5" width="12.2" height="12.5" fill="rgb(102,102,102)"/><rect x="261.3" y="301.5" width="12.2" height="12.5" fill="rgb(102,102,102)"/><rect x="106.1" y="313.7" width="12.2" height="12.5" fill="rgb(102,102,102)"/><rect x="118.1" y="313.7" width="12.2" height="12.5" fill="rgb(102,102,102)"/><rect x="130.0" y="313.7" width="12.2" height="12.5" fill="rgb(102,102,102)"/><rect x="141.9" y="313.7" width="12.2" height="12.5" fill="rgb(128,128,128)"/><rect x="153.9" y="313.7" width="12.2" height="12.5" fill="rgb(102,102,102)"/><rect x="165.8" y="313.7" width="12.2" height="12.5" fill="rgb(102,102,102)"/><rect x="177.8" y="313.7" width="12.2" height="12.5" fill="rgb(153,153,153)"/><rect x="189.7" y="313.7" width="12.2" height="12.5" fill="rgb(178,178,178)"/><rect x="201.6" y="313.7" width="12.2" height="12.5" fill="rgb(178,178,178)"/><rect x="213.6" y="313.7" width="12.2" height="12.5" fill="rgb(128,128,128)"/><rect x="225.5" y="313.7" width="12.2" height="12.5" fill="rgb(128,128,128)"/><rect x="237.5" y="313.7" width="12.2" height="12.5" fill="rgb(128,128,128)"/><rect x="249.4" y="313.7" width="12.2" height="12.5" fill="rgb(128,128,128)"/><rect x="261.3" y="313.7" width="12.2" height="12.5" fill="rgb(128,128,128)"/><rect x="106.1" y="325.9" width="12.2" height="12.5" fill="rgb(76,76,76)"/><rect x="118.1" y="325.9" width="12.2" height="12.5" fill="rgb(76,76,76)"/><rect x="130.0" y="325.9" width="12.2" height="12.5" fill="rgb(76,76,76)"/><rect x="141.9" y="325.9" width="12.2" height="12.5" fill="rgb(128,128,128)"/><rect x="153.9" y="325.9" width="12.2" height="12.5" fill="rgb(153,153,153)"/><rect x="165.8" y="325.9" width="12.2" height="12.5" fill="rgb(128,128,128)"/><rect x="177.8" y="325.9" width="12.2" height="12.5" fill="rgb(102,102,102)"/><rect x="189.7" y="325.9" width="12.2" height="12.5" fill="rgb(153,153,153)"/><rect x="201.6" y="325.9" width="12.2" height="12.5" fill="rgb(128,128,128)"/><rect x="213.6" y="325.9" width="12.2" height="12.5" fill="rgb(102,102,102)"/><rect x="225.5" y="325.9" width="12.2" height="12.5" fill="rgb(153,153,153)"/><rect x="237.5" y="325.9" width="12.2" height="12.5" fill="rgb(128,128,128)"/><rect x="249.4" y="325.9" width="12.2" height="12.5" fill="rgb(128,128,128)"/><rect x="261.3" y="325.9" width="12.2" height="12.5" fill="rgb(128,128,128)"/><rect x="106.1" y="338.1" width="12.2" height="12.5" fill="rgb(102,102,102)"/><rect x="118.1" y="338.1" width="12.2" height="12.5" fill="rgb(102,102,102)"/><rect x="130.0" y="338.1" width="12.2" height="12.5" fill="rgb(102,102,102)"/><rect x="141.9" y="338.1" width="12.2" height="12.5" fill="rgb(153,153,153)"/><rect x="153.9" y="338.1" width="12.2" height="12.5" fill="rgb(153,153,153)"/><rect x="165.8" y="338.1" width="12.2" height="12.5" fill="rgb(128,128,128)"/><rect x="177.8" y="338.1" width="12.2" height="12.5" fill="rgb(102,102,102)"/><rect x="189.7" y="338.1" width="12.2" height="12.5" fill="rgb(102,102,102)"/><rect x="201.6" y="338.1" width="12.2" height="12.5" fill="rgb(128,128,128)"/><rect x="213.6" y="338.1" width="12.2" height="12.5" fill="rgb(102,102,102)"/><rect x="225.5" y="338.1" width="12.2" height="12.5" fill="rgb(128,128,128)"/><rect x="237.5" y="338.1" width="12.2" height="12.5" fill="rgb(153,153,153)"/><rect x="249.4" y="338.1" width="12.2" height="12.5" fill="rgb(153,153,153)"/><rect x="261.3" y="338.1" width="12.2" height="12.5" fill="rgb(153,153,153)"/><rect x="106.1" y="350.3" width="12.2" height="12.5" fill="rgb(128,128,128)"/><rect x="118.1" y="350.3" width="12.2" height="12.5" fill="rgb(128,128,128)"/><rect x="130.0" y="350.3" width="12.2" height="12.5" fill="rgb(128,128,128)"/><rect x="141.9" y="350.3" width="12.2" height="12.5" fill="rgb(153,153,153)"/><rect x="153.9" y="350.3" width="12.2" height="12.5" fill="rgb(153,153,153)"/><rect x="165.8" y="350.3" width="12.2" height="12.5" fill="rgb(128,128,128)"/><rect x="177.8" y="350.3" width="12.2" height="12.5" fill="rgb(128,128,128)"/><rect x="189.7" y="350.3" width="12.2" height="12.5" fill="rgb(128,128,128)"/><rect x="201.6" y="350.3" width="12.2" height="12.5" fill="rgb(128,128,128)"/><rect x="213.6" y="350.3" width="12.2" height="12.5" fill="rgb(102,102,102)"/><rect x="225.5" y="350.3" width="12.2" height="12.5" fill="rgb(102,102,102)"/><rect x="237.5" y="350.3" width="12.2" height="12.5" fill="rgb(128,128,128)"/><rect x="249.4" y="350.3" width="12.2" height="12.5" fill="rgb(128,128,128)"/><rect x="261.3" y="350.3" width="12.2" height="12.5" fill="rgb(128,128,128)"/><rect x="106.1" y="362.4" width="12.2" height="12.5" fill="rgb(128,128,128)"/><rect x="118.1" y="362.4" width="12.2" height="12.5" fill="rgb(128,128,128)"/><rect x="130.0" y="362.4" width="12.2" height="12.5" fill="rgb(128,128,128)"/><rect x="141.9" y="362.4" width="12.2" height="12.5" fill="rgb(178,178,178)"/><rect x="153.9" y="362.4" width="12.2" height="12.5" fill="rgb(153,153,153)"/><rect x="165.8" y="362.4" width="12.2" height="12.5" fill="rgb(153,153,153)"/><rect x="177.8" y="362.4" width="12.2" height="12.5" fill="rgb(128,128,128)"/><rect x="189.7" y="362.4" width="12.2" height="12.5" fill="rgb(153,153,153)"/><rect x="201.6" y="362.4" width="12.2" height="12.5" fill="rgb(128,128,128)"/><rect x="213.6" y="362.4" width="12.2" height="12.5" fill="rgb(128,128,128)"/><rect x="225.5" y="362.4" width="12.2" height="12.5" fill="rgb(102,102,102)"/><rect x="237.5" y="362.4" width="12.2" height="12.5" fill="rgb(102,102,102)"/><rect x="249.4" y="362.4" width="12.2" height="12.5" fill="rgb(102,102,102)"/><rect x="261.3" y="362.4" width="12.2" height="12.5" fill="rgb(102,102,102)"/><rect x="106.1" y="374.6" width="12.2" height="12.5" fill="rgb(102,102,102)"/><rect x="118.1" y="374.6" width="12.2" height="12.5" fill="rgb(102,102,102)"/><rect x="130.0" y="374.6" width="12.2" height="12.5" fill="rgb(102,102,102)"/><rect x="141.9" y="374.6" width="12.2" height="12.5" fill="rgb(153,153,153)"/><rect x="153.9" y="374.6" width="12.2" height="12.5" fill="rgb(153,153,153)"/><rect x="165.8" y="374.6" width="12.2" height="12.5" fill="rgb(128,128,128)"/><rect x="177.8" y="374.6" width="12.2" height="12.5" fill="rgb(128,128,128)"/><rect x="189.7" y="374.6" width="12.2" height="12.5" fill="rgb(102,102,102)"/><rect x="201.6" y="374.6" width="12.2" height="12.5" fill="rgb(102,102,102)"/><rect x="213.6" y="374.6" width="12.2" height="12.5" fill="rgb(102,102,102)"/><rect x="225.5" y="374.6" width="12.2" height="12.5" fill="rgb(102,102,102)"/><rect x="237.5" y="374.6" width="12.2" height="12.5" fill="rgb(76,76,76)"/><rect x="249.4" y="374.6" width="12.2" height="12.5" fill="rgb(76,76,76)"/><rect x="261.3" y="374.6" width="12.2" height="12.5" fill="rgb(76,76,76)"/><rect x="106.1" y="386.8" width="12.2" height="12.5" fill="rgb(102,102,102)"/><rect x="118.1" y="386.8" width="12.2" height="12.5" fill="rgb(102,102,102)"/><rect x="130.0" y="386.8" width="12.2" height="12.5" fill="rgb(102,102,102)"/><rect x="141.9" y="386.8" width="12.2" height="12.5" fill="rgb(153,153,153)"/><rect x="153.9" y="386.8" width="12.2" height="12.5" fill="rgb(153,153,153)"/><rect x="165.8" y="386.8" width="12.2" height="12.5" fill="rgb(128,128,128)"/><rect x="177.8" y="386.8" width="12.2" height="12.5" fill="rgb(128,128,128)"/><rect x="189.7" y="386.8" width="12.2" height="12.5" fill="rgb(102,102,102)"/><rect x="201.6" y="386.8" width="12.2" height="12.5" fill="rgb(102,102,102)"/><rect x="213.6" y="386.8" width="12.2" height="12.5" fill="rgb(102,102,102)"/><rect x="225.5" y="386.8" width="12.2" height="12.5" fill="rgb(102,102,102)"/><rect x="237.5" y="386.8" width="12.2" height="12.5" fill="rgb(76,76,76)"/><rect x="249.4" y="386.8" width="12.2" height="12.5" fill="rgb(76,76,76)"/><rect x="261.3" y="386.8" width="12.2" height="12.5" fill="rgb(76,76,76)"/><rect x="106.1" y="399.0" width="12.2" height="12.5" fill="rgb(102,102,102)"/><rect x="118.1" y="399.0" width="12.2" height="12.5" fill="rgb(102,102,102)"/><rect x="130.0" y="399.0" width="12.2" height="12.5" fill="rgb(102,102,102)"/><rect x="141.9" y="399.0" width="12.2" height="12.5" fill="rgb(153,153,153)"/><rect x="153.9" y="399.0" width="12.2" height="12.5" fill="rgb(153,153,153)"/><rect x="165.8" y="399.0" width="12.2" height="12.5" fill="rgb(128,128,128)"/><rect x="177.8" y="399.0" width="12.2" height="12.5" fill="rgb(128,128,128)"/><rect x="189.7" y="399.0" width="12.2" height="12.5" fill="rgb(102,102,102)"/><rect x="201.6" y="399.0" width="12.2" height="12.5" fill="rgb(102,102,102)"/><rect x="213.6" y="399.0" width="12.2" height="12.5" fill="rgb(102,102,102)"/><rect x="225.5" y="399.0" width="12.2" height="12.5" fill="rgb(102,102,102)"/><rect x="237.5" y="399.0" width="12.2" height="12.5" fill="rgb(76,76,76)"/><rect x="249.4" y="399.0" width="12.2" height="12.5" fill="rgb(76,76,76)"/><rect x="261.3" y="399.0" width="12.2" height="12.5" fill="rgb(76,76,76)"/></g>
<g filter="url(#mf2)"><rect x="228.1" y="240.6" width="12.5" height="12.5" fill="rgb(128,128,128)"/><rect x="240.2" y="240.6" width="12.5" height="12.5" fill="rgb(128,128,128)"/><rect x="252.4" y="240.6" width="12.5" height="12.5" fill="rgb(128,128,128)"/><rect x="264.6" y="240.6" width="12.5" height="12.5" fill="rgb(128,128,128)"/><rect x="276.7" y="240.6" width="12.5" height="12.5" fill="rgb(102,102,102)"/><rect x="288.9" y="240.6" width="12.5" height="12.5" fill="rgb(102,102,102)"/><rect x="301.0" y="240.6" width="12.5" height="12.5" fill="rgb(128,128,128)"/><rect x="313.1" y="240.6" width="12.5" height="12.5" fill="rgb(102,102,102)"/><rect x="325.3" y="240.6" width="12.5" height="12.5" fill="rgb(102,102,102)"/><rect x="337.4" y="240.6" width="12.5" height="12.5" fill="rgb(102,102,102)"/><rect x="349.6" y="240.6" width="12.5" height="12.5" fill="rgb(102,102,102)"/><rect x="361.8" y="240.6" width="12.5" height="12.5" fill="rgb(102,102,102)"/><rect x="373.9" y="240.6" width="12.5" height="12.5" fill="rgb(102,102,102)"/><rect x="386.1" y="240.6" width="12.5" height="12.5" fill="rgb(102,102,102)"/><rect x="228.1" y="252.8" width="12.5" height="12.5" fill="rgb(128,128,128)"/><rect x="240.2" y="252.8" width="12.5" height="12.5" fill="rgb(128,128,128)"/><rect x="252.4" y="252.8" width="12.5" height="12.5" fill="rgb(128,128,128)"/><rect x="264.6" y="252.8" width="12.5" height="12.5" fill="rgb(128,128,128)"/><rect x="276.7" y="252.8" width="12.5" height="12.5" fill="rgb(102,102,102)"/><rect x="288.9" y="252.8" width="12.5" height="12.5" fill="rgb(102,102,102)"/><rect x="301.0" y="252.8" width="12.5" height="12.5" fill="rgb(128,128,128)"/><rect x="313.1" y="252.8" width="12.5" height="12.5" fill="rgb(102,102,102)"/><rect x="325.3" y="252.8" width="12.5" height="12.5" fill="rgb(102,102,102)"/><rect x="337.4" y="252.8" width="12.5" height="12.5" fill="rgb(102,102,102)"/><rect x="349.6" y="252.8" width="12.5" height="12.5" fill="rgb(102,102,102)"/><rect x="361.8" y="252.8" width="12.5" height="12.5" fill="rgb(102,102,102)"/><rect x="373.9" y="252.8" width="12.5" height="12.5" fill="rgb(102,102,102)"/><rect x="386.1" y="252.8" width="12.5" height="12.5" fill="rgb(102,102,102)"/><rect x="228.1" y="265.0" width="12.5" height="12.5" fill="rgb(128,128,128)"/><rect x="240.2" y="265.0" width="12.5" height="12.5" fill="rgb(128,128,128)"/><rect x="252.4" y="265.0" width="12.5" height="12.5" fill="rgb(128,128,128)"/><rect x="264.6" y="265.0" width="12.5" height="12.5" fill="rgb(128,128,128)"/><rect x="276.7" y="265.0" width="12.5" height="12.5" fill="rgb(102,102,102)"/><rect x="288.9" y="265.0" width="12.5" height="12.5" fill="rgb(102,102,102)"/><rect x="301.0" y="265.0" width="12.5" height="12.5" fill="rgb(128,128,128)"/><rect x="313.1" y="265.0" width="12.5" height="12.5" fill="rgb(102,102,102)"/><rect x="325.3" y="265.0" width="12.5" height="12.5" fill="rgb(102,102,102)"/><rect x="337.4" y="265.0" width="12.5" height="12.5" fill="rgb(102,102,102)"/><rect x="349.6" y="265.0" width="12.5" height="12.5" fill="rgb(102,102,102)"/><rect x="361.8" y="265.0" width="12.5" height="12.5" fill="rgb(102,102,102)"/><rect x="373.9" y="265.0" width="12.5" height="12.5" fill="rgb(102,102,102)"/><rect x="386.1" y="265.0" width="12.5" height="12.5" fill="rgb(102,102,102)"/><rect x="228.1" y="277.2" width="12.5" height="12.5" fill="rgb(128,128,128)"/><rect x="240.2" y="277.2" width="12.5" height="12.5" fill="rgb(128,128,128)"/><rect x="252.4" y="277.2" width="12.5" height="12.5" fill="rgb(128,128,128)"/><rect x="264.6" y="277.2" width="12.5" height="12.5" fill="rgb(128,128,128)"/><rect x="276.7" y="277.2" width="12.5" height="12.5" fill="rgb(128,128,128)"/><rect x="288.9" y="277.2" width="12.5" height="12.5" fill="rgb(102,102,102)"/><rect x="301.0" y="277.2" width="12.5" height="12.5" fill="rgb(128,128,128)"/><rect x="313.1" y="277.2" width="12.5" height="12.5" fill="rgb(102,102,102)"/><rect x="325.3" y="277.2" width="12.5" height="12.5" fill="rgb(102,102,102)"/><rect x="337.4" y="277.2" width="12.5" height="12.5" fill="rgb(128,128,128)"/><rect x="349.6" y="277.2" width="12.5" height="12.5" fill="rgb(102,102,102)"/><rect x="361.8" y="277.2" width="12.5" height="12.5" fill="rgb(102,102,102)"/><rect x="373.9" y="277.2" width="12.5" height="12.5" fill="rgb(102,102,102)"/><rect x="386.1" y="277.2" width="12.5" height="12.5" fill="rgb(102,102,102)"/><rect x="228.1" y="289.4" width="12.5" height="12.5" fill="rgb(102,102,102)"/><rect x="240.2" y="289.4" width="12.5" height="12.5" fill="rgb(102,102,102)"/><rect x="252.4" y="289.4" width="12.5" height="12.5" fill="rgb(102,102,102)"/><rect x="264.6" y="289.4" width="12.5" height="12.5" fill="rgb(153,153,153)"/><rect x="276.7" y="289.4" width="12.5" height="12.5" fill="rgb(178,178,178)"/><rect x="288.9" y="289.4" width="12.5" height="12.5" fill="rgb(153,153,153)"/><rect x="301.0" y="289.4" width="12.5" height="12.5" fill="rgb(102,102,102)"/><rect x="313.1" y="289.4" width="12.5" height="12.5" fill="rgb(102,102,102)"/><rect x="325.3" y="289.4" width="12.5" height="12.5" fill="rgb(128,128,128)"/><rect x="337.4" y="289.4" width="12.5" height="12.5" fill="rgb(153,153,153)"/><rect x="349.6" y="289.4" width="12.5" height="12.5" fill="rgb(128,128,128)"/><rect x="361.8" y="289.4" width="12.5" height="12.5" fill="rgb(153,153,153)"/><rect x="373.9" y="289.4" width="12.5" height="12.5" fill="rgb(153,153,153)"/><rect x="386.1" y="289.4" width="12.5" height="12.5" fill="rgb(153,153,153)"/><rect x="228.1" y="301.5" width="12.5" height="12.5" fill="rgb(102,102,102)"/><rect x="240.2" y="301.5" width="12.5" height="12.5" fill="rgb(102,102,102)"/><rect x="252.4" y="301.5" width="12.5" height="12.5" fill="rgb(102,102,102)"/><rect x="264.6" y="301.5" width="12.5" height="12.5" fill="rgb(153,153,153)"/><rect x="276.7" y="301.5" width="12.5" height="12.5" fill="rgb(178,178,178)"/><rect x="288.9" y="301.5" width="12.5" height="12.5" fill="rgb(178,178,178)"/><rect x="301.0" y="301.5" width="12.5" height="12.5" fill="rgb(102,102,102)"/><rect x="313.1" y="301.5" width="12.5" height="12.5" fill="rgb(102,102,102)"/><rect x="325.3" y="301.5" width="12.5" height="12.5" fill="rgb(153,153,153)"/><rect x="337.4" y="301.5" width="12.5" height="12.5" fill="rgb(178,178,178)"/><rect x="349.6" y="301.5" width="12.5" height="12.5" fill="rgb(153,153,153)"/><rect x="361.8" y="301.5" width="12.5" height="12.5" fill="rgb(102,102,102)"/><rect x="373.9" y="301.5" width="12.5" height="12.5" fill="rgb(102,102,102)"/><rect x="386.1" y="301.5" width="12.5" height="12.5" fill="rgb(102,102,102)"/><rect x="228.1" y="313.7" width="12.5" height="12.5" fill="rgb(102,102,102)"/><rect x="240.2" y="313.7" width="12.5" height="12.5" fill="rgb(102,102,102)"/><rect x="252.4" y="313.7" width="12.5" height="12.5" fill="rgb(102,102,102)"/><rect x="264.6" y="313.7" width="12.5" height="12.5" fill="rgb(128,128,128)"/><rect x="276.7" y="313.7" width="12.5" height="12.5" fill="rgb(153,153,153)"/><rect x="288.9" y="313.7" width="12.5" height="12.5" fill="rgb(153,153,153)"/><rect x="301.0" y="313.7" width="12.5" height="12.5" fill="rgb(102,102,102)"/><rect x="313.1" y="313.7" width="12.5" height="12.5" fill="rgb(128,128,128)"/><rect x="325.3" y="313.7" width="12.5" height="12.5" fill="rgb(153,153,153)"/><rect x="337.4" y="313.7" width="12.5" height="12.5" fill="rgb(153,153,153)"/><rect x="349.6" y="313.7" width="12.5" height="12.5" fill="rgb(128,128,128)"/><rect x="361.8" y="313.7" width="12.5" height="12.5" fill="rgb(102,102,102)"/><rect x="373.9" y="313.7" width="12.5" height="12.5" fill="rgb(102,102,102)"/><rect x="386.1" y="313.7" width="12.5" height="12.5" fill="rgb(102,102,102)"/><rect x="228.1" y="325.9" width="12.5" height="12.5" fill="rgb(102,102,102)"/><rect x="240.2" y="325.9" width="12.5" height="12.5" fill="rgb(102,102,102)"/><rect x="252.4" y="325.9" width="12.5" height="12.5" fill="rgb(102,102,102)"/><rect x="264.6" y="325.9" width="12.5" height="12.5" fill="rgb(128,128,128)"/><rect x="276.7" y="325.9" width="12.5" height="12.5" fill="rgb(153,153,153)"/><rect x="288.9" y="325.9" width="12.5" height="12.5" fill="rgb(128,128,128)"/><rect x="301.0" y="325.9" width="12.5" height="12.5" fill="rgb(102,102,102)"/><rect x="313.1" y="325.9" width="12.5" height="12.5" fill="rgb(128,128,128)"/><rect x="325.3" y="325.9" width="12.5" height="12.5" fill="rgb(153,153,153)"/><rect x="337.4" y="325.9" width="12.5" height="12.5" fill="rgb(128,128,128)"/><rect x="349.6" y="325.9" width="12.5" height="12.5" fill="rgb(102,102,102)"/><rect x="361.8" y="325.9" width="12.5" height="12.5" fill="rgb(102,102,102)"/><rect x="373.9" y="325.9" width="12.5" height="12.5" fill="rgb(102,102,102)"/><rect x="386.1" y="325.9" width="12.5" height="12.5" fill="rgb(102,102,102)"/><rect x="228.1" y="338.1" width="12.5" height="12.5" fill="rgb(128,128,128)"/><rect x="240.2" y="338.1" width="12.5" height="12.5" fill="rgb(128,128,128)"/><rect x="252.4" y="338.1" width="12.5" height="12.5" fill="rgb(128,128,128)"/><rect x="264.6" y="338.1" width="12.5" height="12.5" fill="rgb(153,153,153)"/><rect x="276.7" y="338.1" width="12.5" height="12.5" fill="rgb(153,153,153)"/><rect x="288.9" y="338.1" width="12.5" height="12.5" fill="rgb(153,153,153)"/><rect x="301.0" y="338.1" width="12.5" height="12.5" fill="rgb(128,128,128)"/><rect x="313.1" y="338.1" width="12.5" height="12.5" fill="rgb(102,102,102)"/><rect x="325.3" y="338.1" width="12.5" height="12.5" fill="rgb(102,102,102)"/><rect x="337.4" y="338.1" width="12.5" height="12.5" fill="rgb(102,102,102)"/><rect x="349.6" y="338.1" width="12.5" height="12.5" fill="rgb(102,102,102)"/><rect x="361.8" y="338.1" width="12.5" height="12.5" fill="rgb(102,102,102)"/><rect x="373.9" y="338.1" width="12.5" height="12.5" fill="rgb(102,102,102)"/><rect x="386.1" y="338.1" width="12.5" height="12.5" fill="rgb(102,102,102)"/><rect x="228.1" y="350.3" width="12.5" height="12.5" fill="rgb(102,102,102)"/><rect x="240.2" y="350.3" width="12.5" height="12.5" fill="rgb(102,102,102)"/><rect x="252.4" y="350.3" width="12.5" height="12.5" fill="rgb(102,102,102)"/><rect x="264.6" y="350.3" width="12.5" height="12.5" fill="rgb(153,153,153)"/><rect x="276.7" y="350.3" width="12.5" height="12.5" fill="rgb(153,153,153)"/><rect x="288.9" y="350.3" width="12.5" height="12.5" fill="rgb(153,153,153)"/><rect x="301.0" y="350.3" width="12.5" height="12.5" fill="rgb(153,153,153)"/><rect x="313.1" y="350.3" width="12.5" height="12.5" fill="rgb(128,128,128)"/><rect x="325.3" y="350.3" width="12.5" height="12.5" fill="rgb(128,128,128)"/><rect x="337.4" y="350.3" width="12.5" height="12.5" fill="rgb(128,128,128)"/><rect x="349.6" y="350.3" width="12.5" height="12.5" fill="rgb(102,102,102)"/><rect x="361.8" y="350.3" width="12.5" height="12.5" fill="rgb(102,102,102)"/><rect x="373.9" y="350.3" width="12.5" height="12.5" fill="rgb(102,102,102)"/><rect x="386.1" y="350.3" width="12.5" height="12.5" fill="rgb(102,102,102)"/><rect x="228.1" y="362.4" width="12.5" height="12.5" fill="rgb(102,102,102)"/><rect x="240.2" y="362.4" width="12.5" height="12.5" fill="rgb(102,102,102)"/><rect x="252.4" y="362.4" width="12.5" height="12.5" fill="rgb(102,102,102)"/><rect x="264.6" y="362.4" width="12.5" height="12.5" fill="rgb(128,128,128)"/><rect x="276.7" y="362.4" width="12.5" height="12.5" fill="rgb(153,153,153)"/><rect x="288.9" y="362.4" width="12.5" height="12.5" fill="rgb(128,128,128)"/><rect x="301.0" y="362.4" width="12.5" height="12.5" fill="rgb(128,128,128)"/><rect x="313.1" y="362.4" width="12.5" height="12.5" fill="rgb(128,128,128)"/><rect x="325.3" y="362.4" width="12.5" height="12.5" fill="rgb(153,153,153)"/><rect x="337.4" y="362.4" width="12.5" height="12.5" fill="rgb(128,128,128)"/><rect x="349.6" y="362.4" width="12.5" height="12.5" fill="rgb(102,102,102)"/><rect x="361.8" y="362.4" width="12.5" height="12.5" fill="rgb(102,102,102)"/><rect x="373.9" y="362.4" width="12.5" height="12.5" fill="rgb(102,102,102)"/><rect x="386.1" y="362.4" width="12.5" height="12.5" fill="rgb(102,102,102)"/><rect x="228.1" y="374.6" width="12.5" height="12.5" fill="rgb(102,102,102)"/><rect x="240.2" y="374.6" width="12.5" height="12.5" fill="rgb(102,102,102)"/><rect x="252.4" y="374.6" width="12.5" height="12.5" fill="rgb(102,102,102)"/><rect x="264.6" y="374.6" width="12.5" height="12.5" fill="rgb(102,102,102)"/><rect x="276.7" y="374.6" width="12.5" height="12.5" fill="rgb(102,102,102)"/><rect x="288.9" y="374.6" width="12.5" height="12.5" fill="rgb(102,102,102)"/><rect x="301.0" y="374.6" width="12.5" height="12.5" fill="rgb(102,102,102)"/><rect x="313.1" y="374.6" width="12.5" height="12.5" fill="rgb(102,102,102)"/><rect x="325.3" y="374.6" width="12.5" height="12.5" fill="rgb(102,102,102)"/><rect x="337.4" y="374.6" width="12.5" height="12.5" fill="rgb(102,102,102)"/><rect x="349.6" y="374.6" width="12.5" height="12.5" fill="rgb(102,102,102)"/><rect x="361.8" y="374.6" width="12.5" height="12.5" fill="rgb(102,102,102)"/><rect x="373.9" y="374.6" width="12.5" height="12.5" fill="rgb(102,102,102)"/><rect x="386.1" y="374.6" width="12.5" height="12.5" fill="rgb(102,102,102)"/><rect x="228.1" y="386.8" width="12.5" height="12.5" fill="rgb(102,102,102)"/><rect x="240.2" y="386.8" width="12.5" height="12.5" fill="rgb(102,102,102)"/><rect x="252.4" y="386.8" width="12.5" height="12.5" fill="rgb(102,102,102)"/><rect x="264.6" y="386.8" width="12.5" height="12.5" fill="rgb(102,102,102)"/><rect x="276.7" y="386.8" width="12.5" height="12.5" fill="rgb(102,102,102)"/><rect x="288.9" y="386.8" width="12.5" height="12.5" fill="rgb(102,102,102)"/><rect x="301.0" y="386.8" width="12.5" height="12.5" fill="rgb(102,102,102)"/><rect x="313.1" y="386.8" width="12.5" height="12.5" fill="rgb(102,102,102)"/><rect x="325.3" y="386.8" width="12.5" height="12.5" fill="rgb(102,102,102)"/><rect x="337.4" y="386.8" width="12.5" height="12.5" fill="rgb(102,102,102)"/><rect x="349.6" y="386.8" width="12.5" height="12.5" fill="rgb(102,102,102)"/><rect x="361.8" y="386.8" width="12.5" height="12.5" fill="rgb(102,102,102)"/><rect x="373.9" y="386.8" width="12.5" height="12.5" fill="rgb(102,102,102)"/><rect x="386.1" y="386.8" width="12.5" height="12.5" fill="rgb(102,102,102)"/><rect x="228.1" y="399.0" width="12.5" height="12.5" fill="rgb(102,102,102)"/><rect x="240.2" y="399.0" width="12.5" height="12.5" fill="rgb(102,102,102)"/><rect x="252.4" y="399.0" width="12.5" height="12.5" fill="rgb(102,102,102)"/><rect x="264.6" y="399.0" width="12.5" height="12.5" fill="rgb(102,102,102)"/><rect x="276.7" y="399.0" width="12.5" height="12.5" fill="rgb(102,102,102)"/><rect x="288.9" y="399.0" width="12.5" height="12.5" fill="rgb(102,102,102)"/><rect x="301.0" y="399.0" width="12.5" height="12.5" fill="rgb(102,102,102)"/><rect x="313.1" y="399.0" width="12.5" height="12.5" fill="rgb(102,102,102)"/><rect x="325.3" y="399.0" width="12.5" height="12.5" fill="rgb(102,102,102)"/><rect x="337.4" y="399.0" width="12.5" height="12.5" fill="rgb(102,102,102)"/><rect x="349.6" y="399.0" width="12.5" height="12.5" fill="rgb(102,102,102)"/><rect x="361.8" y="399.0" width="12.5" height="12.5" fill="rgb(102,102,102)"/><rect x="373.9" y="399.0" width="12.5" height="12.5" fill="rgb(102,102,102)"/><rect x="386.1" y="399.0" width="12.5" height="12.5" fill="rgb(102,102,102)"/></g>
<g filter="url(#mf3)"><rect x="353.2" y="240.6" width="12.2" height="12.5" fill="rgb(76,76,76)"/><rect x="365.1" y="240.6" width="12.2" height="12.5" fill="rgb(76,76,76)"/><rect x="377.0" y="240.6" width="12.2" height="12.5" fill="rgb(76,76,76)"/><rect x="388.9" y="240.6" width="12.2" height="12.5" fill="rgb(102,102,102)"/><rect x="400.8" y="240.6" width="12.2" height="12.5" fill="rgb(76,76,76)"/><rect x="412.7" y="240.6" width="12.2" height="12.5" fill="rgb(102,102,102)"/><rect x="424.6" y="240.6" width="12.2" height="12.5" fill="rgb(102,102,102)"/><rect x="436.5" y="240.6" width="12.2" height="12.5" fill="rgb(76,76,76)"/><rect x="448.4" y="240.6" width="12.2" height="12.5" fill="rgb(76,76,76)"/><rect x="460.3" y="240.6" width="12.2" height="12.5" fill="rgb(76,76,76)"/><rect x="472.2" y="240.6" width="12.2" height="12.5" fill="rgb(76,76,76)"/><rect x="484.1" y="240.6" width="12.2" height="12.5" fill="rgb(76,76,76)"/><rect x="496.0" y="240.6" width="12.2" height="12.5" fill="rgb(76,76,76)"/><rect x="507.9" y="240.6" width="12.2" height="12.5" fill="rgb(76,76,76)"/><rect x="353.2" y="252.8" width="12.2" height="12.5" fill="rgb(76,76,76)"/><rect x="365.1" y="252.8" width="12.2" height="12.5" fill="rgb(76,76,76)"/><rect x="377.0" y="252.8" width="12.2" height="12.5" fill="rgb(76,76,76)"/><rect x="388.9" y="252.8" width="12.2" height="12.5" fill="rgb(102,102,102)"/><rect x="400.8" y="252.8" width="12.2" height="12.5" fill="rgb(76,76,76)"/><rect x="412.7" y="252.8" width="12.2" height="12.5" fill="rgb(102,102,102)"/><rect x="424.6" y="252.8" width="12.2" height="12.5" fill="rgb(102,102,102)"/><rect x="436.5" y="252.8" width="12.2" height="12.5" fill="rgb(76,76,76)"/><rect x="448.4" y="252.8" width="12.2" height="12.5" fill="rgb(76,76,76)"/><rect x="460.3" y="252.8" width="12.2" height="12.5" fill="rgb(76,76,76)"/><rect x="472.2" y="252.8" width="12.2" height="12.5" fill="rgb(76,76,76)"/><rect x="484.1" y="252.8" width="12.2" height="12.5" fill="rgb(76,76,76)"/><rect x="496.0" y="252.8" width="12.2" height="12.5" fill="rgb(76,76,76)"/><rect x="507.9" y="252.8" width="12.2" height="12.5" fill="rgb(76,76,76)"/><rect x="353.2" y="265.0" width="12.2" height="12.5" fill="rgb(76,76,76)"/><rect x="365.1" y="265.0" width="12.2" height="12.5" fill="rgb(76,76,76)"/><rect x="377.0" y="265.0" width="12.2" height="12.5" fill="rgb(76,76,76)"/><rect x="388.9" y="265.0" width="12.2" height="12.5" fill="rgb(102,102,102)"/><rect x="400.8" y="265.0" width="12.2" height="12.5" fill="rgb(76,76,76)"/><rect x="412.7" y="265.0" width="12.2" height="12.5" fill="rgb(102,102,102)"/><rect x="424.6" y="265.0" width="12.2" height="12.5" fill="rgb(102,102,102)"/><rect x="436.5" y="265.0" width="12.2" height="12.5" fill="rgb(76,76,76)"/><rect x="448.4" y="265.0" width="12.2" height="12.5" fill="rgb(76,76,76)"/><rect x="460.3" y="265.0" width="12.2" height="12.5" fill="rgb(76,76,76)"/><rect x="472.2" y="265.0" width="12.2" height="12.5" fill="rgb(76,76,76)"/><rect x="484.1" y="265.0" width="12.2" height="12.5" fill="rgb(76,76,76)"/><rect x="496.0" y="265.0" width="12.2" height="12.5" fill="rgb(76,76,76)"/><rect x="507.9" y="265.0" width="12.2" height="12.5" fill="rgb(76,76,76)"/><rect x="353.2" y="277.2" width="12.2" height="12.5" fill="rgb(76,76,76)"/><rect x="365.1" y="277.2" width="12.2" height="12.5" fill="rgb(76,76,76)"/><rect x="377.0" y="277.2" width="12.2" height="12.5" fill="rgb(76,76,76)"/><rect x="388.9" y="277.2" width="12.2" height="12.5" fill="rgb(102,102,102)"/><rect x="400.8" y="277.2" width="12.2" height="12.5" fill="rgb(128,128,128)"/><rect x="412.7" y="277.2" width="12.2" height="12.5" fill="rgb(153,153,153)"/><rect x="424.6" y="277.2" width="12.2" height="12.5" fill="rgb(128,128,128)"/><rect x="436.5" y="277.2" width="12.2" height="12.5" fill="rgb(102,102,102)"/><rect x="448.4" y="277.2" width="12.2" height="12.5" fill="rgb(128,128,128)"/><rect x="460.3" y="277.2" width="12.2" height="12.5" fill="rgb(102,102,102)"/><rect x="472.2" y="277.2" width="12.2" height="12.5" fill="rgb(76,76,76)"/><rect x="484.1" y="277.2" width="12.2" height="12.5" fill="rgb(76,76,76)"/><rect x="496.0" y="277.2" width="12.2" height="12.5" fill="rgb(76,76,76)"/><rect x="507.9" y="277.2" width="12.2" height="12.5" fill="rgb(76,76,76)"/><rect x="353.2" y="289.4" width="12.2" height="12.5" fill="rgb(102,102,102)"/><rect x="365.1" y="289.4" width="12.2" height="12.5" fill="rgb(102,102,102)"/><rect x="377.0" y="289.4" width="12.2" height="12.5" fill="rgb(102,102,102)"/><rect x="388.9" y="289.4" width="12.2" height="12.5" fill="rgb(102,102,102)"/><rect x="400.8" y="289.4" width="12.2" height="12.5" fill="rgb(128,128,128)"/><rect x="412.7" y="289.4" width="12.2" height="12.5" fill="rgb(178,178,178)"/><rect x="424.6" y="289.4" width="12.2" height="12.5" fill="rgb(153,153,153)"/><rect x="436.5" y="289.4" width="12.2" height="12.5" fill="rgb(153,153,153)"/><rect x="448.4" y="289.4" width="12.2" height="12.5" fill="rgb(153,153,153)"/><rect x="460.3" y="289.4" width="12.2" height="12.5" fill="rgb(153,153,153)"/><rect x="472.2" y="289.4" width="12.2" height="12.5" fill="rgb(102,102,102)"/><rect x="484.1" y="289.4" width="12.2" height="12.5" fill="rgb(76,76,76)"/><rect x="496.0" y="289.4" width="12.2" height="12.5" fill="rgb(76,76,76)"/><rect x="507.9" y="289.4" width="12.2" height="12.5" fill="rgb(76,76,76)"/><rect x="353.2" y="301.5" width="12.2" height="12.5" fill="rgb(102,102,102)"/><rect x="365.1" y="301.5" width="12.2" height="12.5" fill="rgb(102,102,102)"/><rect x="377.0" y="301.5" width="12.2" height="12.5" fill="rgb(102,102,102)"/><rect x="388.9" y="301.5" width="12.2" height="12.5" fill="rgb(153,153,153)"/><rect x="400.8" y="301.5" width="12.2" height="12.5" fill="rgb(153,153,153)"/><rect x="412.7" y="301.5" width="12.2" height="12.5" fill="rgb(153,153,153)"/><rect x="424.6" y="301.5" width="12.2" height="12.5" fill="rgb(153,153,153)"/><rect x="436.5" y="301.5" width="12.2" height="12.5" fill="rgb(153,153,153)"/><rect x="448.4" y="301.5" width="12.2" height="12.5" fill="rgb(153,153,153)"/><rect x="460.3" y="301.5" width="12.2" height="12.5" fill="rgb(128,128,128)"/><rect x="472.2" y="301.5" width="12.2" height="12.5" fill="rgb(102,102,102)"/><rect x="484.1" y="301.5" width="12.2" height="12.5" fill="rgb(76,76,76)"/><rect x="496.0" y="301.5" width="12.2" height="12.5" fill="rgb(76,76,76)"/><rect x="507.9" y="301.5" width="12.2" height="12.5" fill="rgb(76,76,76)"/><rect x="353.2" y="313.7" width="12.2" height="12.5" fill="rgb(76,76,76)"/><rect x="365.1" y="313.7" width="12.2" height="12.5" fill="rgb(76,76,76)"/><rect x="377.0" y="313.7" width="12.2" height="12.5" fill="rgb(76,76,76)"/><rect x="388.9" y="313.7" width="12.2" height="12.5" fill="rgb(102,102,102)"/><rect x="400.8" y="313.7" width="12.2" height="12.5" fill="rgb(102,102,102)"/><rect x="412.7" y="313.7" width="12.2" height="12.5" fill="rgb(153,153,153)"/><rect x="424.6" y="313.7" width="12.2" height="12.5" fill="rgb(153,153,153)"/><rect x="436.5" y="313.7" width="12.2" height="12.5" fill="rgb(128,128,128)"/><rect x="448.4" y="313.7" width="12.2" height="12.5" fill="rgb(128,128,128)"/><rect x="460.3" y="313.7" width="12.2" height="12.5" fill="rgb(102,102,102)"/><rect x="472.2" y="313.7" width="12.2" height="12.5" fill="rgb(76,76,76)"/><rect x="484.1" y="313.7" width="12.2" height="12.5" fill="rgb(76,76,76)"/><rect x="496.0" y="313.7" width="12.2" height="12.5" fill="rgb(76,76,76)"/><rect x="507.9" y="313.7" width="12.2" height="12.5" fill="rgb(76,76,76)"/><rect x="353.2" y="325.9" width="12.2" height="12.5" fill="rgb(76,76,76)"/><rect x="365.1" y="325.9" width="12.2" height="12.5" fill="rgb(76,76,76)"/><rect x="377.0" y="325.9" width="12.2" height="12.5" fill="rgb(76,76,76)"/><rect x="388.9" y="325.9" width="12.2" height="12.5" fill="rgb(76,76,76)"/><rect x="400.8" y="325.9" width="12.2" height="12.5" fill="rgb(102,102,102)"/><rect x="412.7" y="325.9" width="12.2" height="12.5" fill="rgb(153,153,153)"/><rect x="424.6" y="325.9" width="12.2" height="12.5" fill="rgb(153,153,153)"/><rect x="436.5" y="325.9" width="12.2" height="12.5" fill="rgb(102,102,102)"/><rect x="448.4" y="325.9" width="12.2" height="12.5" fill="rgb(76,76,76)"/><rect x="460.3" y="325.9" width="12.2" height="12.5" fill="rgb(76,76,76)"/><rect x="472.2" y="325.9" width="12.2" height="12.5" fill="rgb(76,76,76)"/><rect x="484.1" y="325.9" width="12.2" height="12.5" fill="rgb(76,76,76)"/><rect x="496.0" y="325.9" width="12.2" height="12.5" fill="rgb(76,76,76)"/><rect x="507.9" y="325.9" width="12.2" height="12.5" fill="rgb(76,76,76)"/><rect x="353.2" y="338.1" width="12.2" height="12.5" fill="rgb(76,76,76)"/><rect x="365.1" y="338.1" width="12.2" height="12.5" fill="rgb(76,76,76)"/><rect x="377.0" y="338.1" width="12.2" height="12.5" fill="rgb(76,76,76)"/><rect x="388.9" y="338.1" width="12.2" height="12.5" fill="rgb(76,76,76)"/><rect x="400.8" y="338.1" width="12.2" height="12.5" fill="rgb(128,128,128)"/><rect x="412.7" y="338.1" width="12.2" height="12.5" fill="rgb(153,153,153)"/><rect x="424.6" y="338.1" width="12.2" height="12.5" fill="rgb(153,153,153)"/><rect x="436.5" y="338.1" width="12.2" height="12.5" fill="rgb(102,102,102)"/><rect x="448.4" y="338.1" width="12.2" height="12.5" fill="rgb(76,76,76)"/><rect x="460.3" y="338.1" width="12.2" height="12.5" fill="rgb(76,76,76)"/><rect x="472.2" y="338.1" width="12.2" height="12.5" fill="rgb(128,128,128)"/><rect x="484.1" y="338.1" width="12.2" height="12.5" fill="rgb(76,76,76)"/><rect x="496.0" y="338.1" width="12.2" height="12.5" fill="rgb(76,76,76)"/><rect x="507.9" y="338.1" width="12.2" height="12.5" fill="rgb(76,76,76)"/><rect x="353.2" y="350.3" width="12.2" height="12.5" fill="rgb(76,76,76)"/><rect x="365.1" y="350.3" width="12.2" height="12.5" fill="rgb(76,76,76)"/><rect x="377.0" y="350.3" width="12.2" height="12.5" fill="rgb(76,76,76)"/><rect x="388.9" y="350.3" width="12.2" height="12.5" fill="rgb(76,76,76)"/><rect x="400.8" y="350.3" width="12.2" height="12.5" fill="rgb(102,102,102)"/><rect x="412.7" y="350.3" width="12.2" height="12.5" fill="rgb(128,128,128)"/><rect x="424.6" y="350.3" width="12.2" height="12.5" fill="rgb(153,153,153)"/><rect x="436.5" y="350.3" width="12.2" height="12.5" fill="rgb(128,128,128)"/><rect x="448.4" y="350.3" width="12.2" height="12.5" fill="rgb(76,76,76)"/><rect x="460.3" y="350.3" width="12.2" height="12.5" fill="rgb(76,76,76)"/><rect x="472.2" y="350.3" width="12.2" height="12.5" fill="rgb(102,102,102)"/><rect x="484.1" y="350.3" width="12.2" height="12.5" fill="rgb(76,76,76)"/><rect x="496.0" y="350.3" width="12.2" height="12.5" fill="rgb(76,76,76)"/><rect x="507.9" y="350.3" width="12.2" height="12.5" fill="rgb(76,76,76)"/><rect x="353.2" y="362.4" width="12.2" height="12.5" fill="rgb(76,76,76)"/><rect x="365.1" y="362.4" width="12.2" height="12.5" fill="rgb(76,76,76)"/><rect x="377.0" y="362.4" width="12.2" height="12.5" fill="rgb(76,76,76)"/><rect x="388.9" y="362.4" width="12.2" height="12.5" fill="rgb(76,76,76)"/><rect x="400.8" y="362.4" width="12.2" height="12.5" fill="rgb(76,76,76)"/><rect x="412.7" y="362.4" width="12.2" height="12.5" fill="rgb(102,102,102)"/><rect x="424.6" y="362.4" width="12.2" height="12.5" fill="rgb(128,128,128)"/><rect x="436.5" y="362.4" width="12.2" height="12.5" fill="rgb(128,128,128)"/><rect x="448.4" y="362.4" width="12.2" height="12.5" fill="rgb(76,76,76)"/><rect x="460.3" y="362.4" width="12.2" height="12.5" fill="rgb(128,128,128)"/><rect x="472.2" y="362.4" width="12.2" height="12.5" fill="rgb(153,153,153)"/><rect x="484.1" y="362.4" width="12.2" height="12.5" fill="rgb(76,76,76)"/><rect x="496.0" y="362.4" width="12.2" height="12.5" fill="rgb(76,76,76)"/><rect x="507.9" y="362.4" width="12.2" height="12.5" fill="rgb(76,76,76)"/><rect x="353.2" y="374.6" width="12.2" height="12.5" fill="rgb(76,76,76)"/><rect x="365.1" y="374.6" width="12.2" height="12.5" fill="rgb(76,76,76)"/><rect x="377.0" y="374.6" width="12.2" height="12.5" fill="rgb(76,76,76)"/><rect x="388.9" y="374.6" width="12.2" height="12.5" fill="rgb(76,76,76)"/><rect x="400.8" y="374.6" width="12.2" height="12.5" fill="rgb(76,76,76)"/><rect x="412.7" y="374.6" width="12.2" height="12.5" fill="rgb(76,76,76)"/><rect x="424.6" y="374.6" width="12.2" height="12.5" fill="rgb(102,102,102)"/><rect x="436.5" y="374.6" width="12.2" height="12.5" fill="rgb(102,102,102)"/><rect x="448.4" y="374.6" width="12.2" height="12.5" fill="rgb(76,76,76)"/><rect x="460.3" y="374.6" width="12.2" height="12.5" fill="rgb(102,102,102)"/><rect x="472.2" y="374.6" width="12.2" height="12.5" fill="rgb(128,128,128)"/><rect x="484.1" y="374.6" width="12.2" height="12.5" fill="rgb(76,76,76)"/><rect x="496.0" y="374.6" width="12.2" height="12.5" fill="rgb(76,76,76)"/><rect x="507.9" y="374.6" width="12.2" height="12.5" fill="rgb(76,76,76)"/><rect x="353.2" y="386.8" width="12.2" height="12.5" fill="rgb(76,76,76)"/><rect x="365.1" y="386.8" width="12.2" height="12.5" fill="rgb(76,76,76)"/><rect x="377.0" y="386.8" width="12.2" height="12.5" fill="rgb(76,76,76)"/><rect x="388.9" y="386.8" width="12.2" height="12.5" fill="rgb(76,76,76)"/><rect x="400.8" y="386.8" width="12.2" height="12.5" fill="rgb(76,76,76)"/><rect x="412.7" y="386.8" width="12.2" height="12.5" fill="rgb(76,76,76)"/><rect x="424.6" y="386.8" width="12.2" height="12.5" fill="rgb(102,102,102)"/><rect x="436.5" y="386.8" width="12.2" height="12.5" fill="rgb(102,102,102)"/><rect x="448.4" y="386.8" width="12.2" height="12.5" fill="rgb(76,76,76)"/><rect x="460.3" y="386.8" width="12.2" height="12.5" fill="rgb(102,102,102)"/><rect x="472.2" y="386.8" width="12.2" height="12.5" fill="rgb(128,128,128)"/><rect x="484.1" y="386.8" width="12.2" height="12.5" fill="rgb(76,76,76)"/><rect x="496.0" y="386.8" width="12.2" height="12.5" fill="rgb(76,76,76)"/><rect x="507.9" y="386.8" width="12.2" height="12.5" fill="rgb(76,76,76)"/><rect x="353.2" y="399.0" width="12.2" height="12.5" fill="rgb(76,76,76)"/><rect x="365.1" y="399.0" width="12.2" height="12.5" fill="rgb(76,76,76)"/><rect x="377.0" y="399.0" width="12.2" height="12.5" fill="rgb(76,76,76)"/><rect x="388.9" y="399.0" width="12.2" height="12.5" fill="rgb(76,76,76)"/><rect x="400.8" y="399.0" width="12.2" height="12.5" fill="rgb(76,76,76)"/><rect x="412.7" y="399.0" width="12.2" height="12.5" fill="rgb(76,76,76)"/><rect x="424.6" y="399.0" width="12.2" height="12.5" fill="rgb(102,102,102)"/><rect x="436.5" y="399.0" width="12.2" height="12.5" fill="rgb(102,102,102)"/><rect x="448.4" y="399.0" width="12.2" height="12.5" fill="rgb(76,76,76)"/><rect x="460.3" y="399.0" width="12.2" height="12.5" fill="rgb(102,102,102)"/><rect x="472.2" y="399.0" width="12.2" height="12.5" fill="rgb(128,128,128)"/><rect x="484.1" y="399.0" width="12.2" height="12.5" fill="rgb(76,76,76)"/><rect x="496.0" y="399.0" width="12.2" height="12.5" fill="rgb(76,76,76)"/><rect x="507.9" y="399.0" width="12.2" height="12.5" fill="rgb(76,76,76)"/></g>
<!-- chart -->
<text class="s" font-size="12.1" text-anchor="middle" transform="translate(526,318.3) rotate(-90)">Number of cells/field</text>
<g class="a" font-size="7.4" text-anchor="end" fill="#111" letter-spacing="-0.25">
<text x="543" y="266.8">300</text>
<text x="543" y="285.4">250</text>
<text x="543" y="303.9">200</text>
<text x="543" y="322.4">150</text>
<text x="543" y="340.9">100</text>
<text x="543" y="359.4">50</text>
<text x="543" y="377.9">0</text>
</g>
<g stroke="#000" stroke-width="1.4" fill="none">
<path d="M548.3,268.5 V374.8 M546,264 H548.3 M546,282.5 H548.3 M546,301 H548.3 M546,319.5 H548.3 M546,338 H548.3 M546,356.5 H548.3"/>
<path d="M546,374.8 H680.6 M581.7,374.8 V377.3 M615,374.8 V377.3 M648.5,374.8 V377.3 M680.2,374.8 V377.3" stroke-width="1.6"/>
</g>
<g fill="#4472c4">
<rect x="558.2" y="294.3" width="13" height="80.5"/>
<rect x="592.4" y="300.2" width="12.8" height="74.6"/>
<rect x="625.5" y="326.5" width="13.3" height="48.3"/>
<rect x="659.1" y="337" width="12.9" height="37.8"/>
</g>
<g stroke="#222" stroke-width="0.9">
<path d="M564.7,287.6 V301 M563.2,287.6 H566.2 M563.2,301 H566.2"/>
<path d="M598.7,295.4 V305 M597.2,295.4 H600.2 M597.2,305 H600.2"/>
<path d="M632.2,320.3 V331.7 M630.7,320.3 H633.7 M630.7,331.7 H633.7"/>
<path d="M665.5,334.7 V339 M664,334.7 H667"/>
</g>
<path d="M563.6,260.3 V253 H669.7 V260.3 M564.6,283 V275.5 H632.1 V283" stroke="#000" stroke-width="1.4" fill="none"/>
<g class="a" font-size="7" text-anchor="middle" fill="#222">
<text x="564.5" y="386.3">0</text>
<text x="596.8" y="386.3">12.5</text>
<text x="632.4" y="386.3">25</text>
<text x="665.6" y="386.3">50</text>
</g>
<text class="s" x="611" y="397" font-size="12" text-anchor="middle">rTFPI-2 (ng/ml)</text>
</g>
<!-- stars -->
<path d="M84.30,88.20 L85.20,90.36 L87.53,90.55 L85.76,92.07 L86.30,94.35 L84.30,93.13 L82.30,94.35 L82.84,92.07 L81.07,90.55 L83.40,90.36ZM91.90,88.20 L92.80,90.36 L95.13,90.55 L93.36,92.07 L93.90,94.35 L91.90,93.13 L89.90,94.35 L90.44,92.07 L88.67,90.55 L91.00,90.36ZM193.10,17.60 L194.08,19.95 L196.62,20.16 L194.68,21.81 L195.27,24.29 L193.10,22.96 L190.93,24.29 L191.52,21.81 L189.58,20.16 L192.12,19.95ZM409.00,150.00 L409.74,151.78 L411.66,151.93 L410.20,153.19 L410.65,155.07 L409.00,154.06 L407.35,155.07 L407.80,153.19 L406.34,151.93 L408.26,151.78ZM415.20,150.00 L415.94,151.78 L417.86,151.93 L416.40,153.19 L416.85,155.07 L415.20,154.06 L413.55,155.07 L414.00,153.19 L412.54,151.93 L414.46,151.78ZM610.90,242.90 L611.88,245.25 L614.42,245.46 L612.48,247.11 L613.07,249.59 L610.90,248.26 L608.73,249.59 L609.32,247.11 L607.38,245.46 L609.92,245.25ZM594.50,264.90 L595.48,267.25 L598.02,267.46 L596.08,269.11 L596.67,271.59 L594.50,270.27 L592.33,271.59 L592.92,269.11 L590.98,267.46 L593.52,267.25Z" fill="#222"/>
</svg>
</body></html>
